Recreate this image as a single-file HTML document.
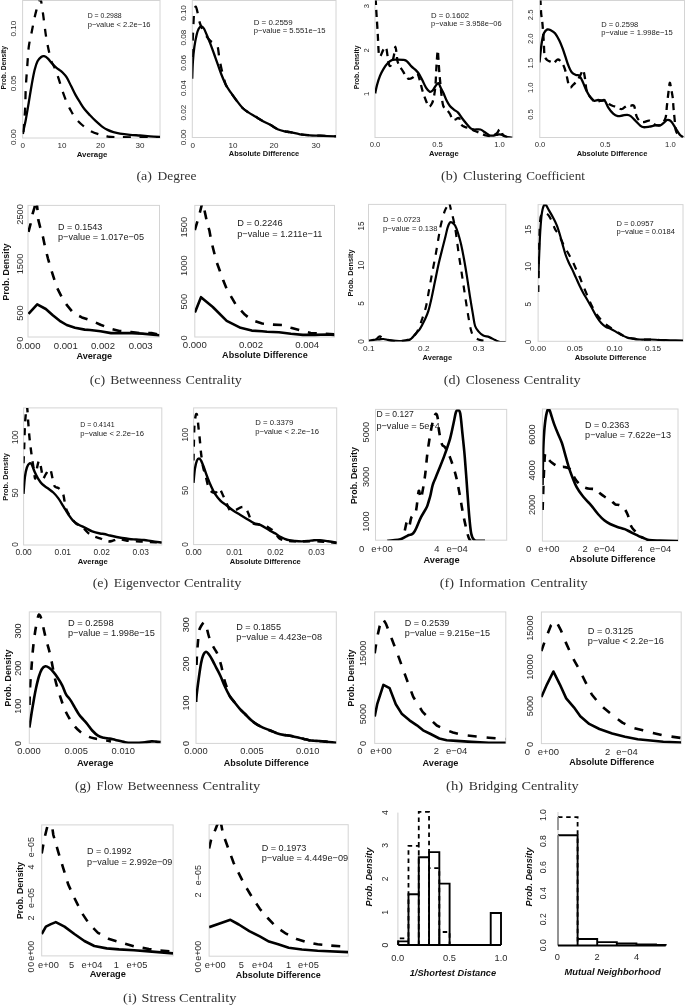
<!DOCTYPE html>
<html><head><meta charset="utf-8"><style>
html,body{margin:0;padding:0;background:#fff;}
body{width:685px;height:1008px;overflow:hidden;font-family:"Liberation Sans", sans-serif;}
svg{display:block;filter:grayscale(1) blur(0.4px);}
</style></head><body>
<svg width="685" height="1008" viewBox="0 0 685 1008">
<rect width="685" height="1008" fill="#fff"/>
<rect x="22.60" y="0.50" width="137.40" height="137.50" fill="none" stroke="#d4d4d4" stroke-width="1"/>
<text transform="translate(13.10,137.20) scale(1.000,1) rotate(-90)" x="-7.87" y="2.91" font-family='"Liberation Sans", sans-serif' font-size="8.09" font-weight="normal" font-style="normal" fill="#2a2a2a" textLength="15.74" lengthAdjust="spacingAndGlyphs">0.00</text>
<text transform="translate(13.10,83.30) scale(1.000,1) rotate(-90)" x="-7.87" y="2.91" font-family='"Liberation Sans", sans-serif' font-size="8.09" font-weight="normal" font-style="normal" fill="#2a2a2a" textLength="15.74" lengthAdjust="spacingAndGlyphs">0.05</text>
<text transform="translate(13.10,28.60) scale(1.000,1) rotate(-90)" x="-7.87" y="2.91" font-family='"Liberation Sans", sans-serif' font-size="8.09" font-weight="normal" font-style="normal" fill="#2a2a2a" textLength="15.74" lengthAdjust="spacingAndGlyphs">0.10</text>
<text x="20.55" y="147.91" font-family='"Liberation Sans", sans-serif' font-size="8.09" font-weight="normal" font-style="normal" fill="#2a2a2a" textLength="4.50" lengthAdjust="spacingAndGlyphs">0</text>
<text x="57.50" y="147.91" font-family='"Liberation Sans", sans-serif' font-size="8.09" font-weight="normal" font-style="normal" fill="#2a2a2a" textLength="8.99" lengthAdjust="spacingAndGlyphs">10</text>
<text x="96.00" y="147.91" font-family='"Liberation Sans", sans-serif' font-size="8.09" font-weight="normal" font-style="normal" fill="#2a2a2a" textLength="8.99" lengthAdjust="spacingAndGlyphs">20</text>
<text x="135.50" y="147.91" font-family='"Liberation Sans", sans-serif' font-size="8.09" font-weight="normal" font-style="normal" fill="#2a2a2a" textLength="8.99" lengthAdjust="spacingAndGlyphs">30</text>
<text x="76.65" y="156.83" font-family='"Liberation Sans", sans-serif' font-size="7.85" font-weight="bold" font-style="normal" fill="#111" textLength="30.70" lengthAdjust="spacingAndGlyphs">Average</text>
<text transform="translate(3.90,67.70) scale(1.000,1) rotate(-90)" x="-21.75" y="2.43" font-family='"Liberation Sans", sans-serif' font-size="6.75" font-weight="bold" font-style="normal" fill="#111" textLength="43.50" lengthAdjust="spacingAndGlyphs">Prob. Density</text>
<text x="87.70" y="18.48" font-family='"Liberation Sans", sans-serif' font-size="6.89" font-weight="normal" font-style="normal" fill="#222" textLength="33.90" lengthAdjust="spacingAndGlyphs">D = 0.2988</text>
<text x="87.70" y="26.72" font-family='"Liberation Sans", sans-serif' font-size="7.57" font-weight="normal" font-style="normal" fill="#222" textLength="62.90" lengthAdjust="spacingAndGlyphs">p−value &lt; 2.2e−16</text>
<clipPath id="c1"><rect x="22.60" y="0.50" width="137.40" height="137.50"/></clipPath>
<path d="M23.40,132.00 C23.43,131.42 23.32,132.25 23.60,128.50 C23.88,124.75 24.73,116.32 25.10,109.50 C25.47,102.68 25.43,94.90 25.80,87.60 C26.17,80.30 26.80,72.52 27.30,65.70 C27.80,58.88 28.07,52.32 28.80,46.70 C29.53,41.08 30.73,36.87 31.70,32.00 C32.67,27.13 33.75,21.37 34.60,17.50 C35.45,13.63 36.07,11.47 36.80,8.80 C37.53,6.13 38.38,3.13 39.00,1.50 C39.62,-0.13 40.02,-1.72 40.50,-1.00 C40.98,-0.28 41.30,1.98 41.90,5.80 C42.50,9.62 43.37,16.53 44.10,21.90 C44.83,27.27 45.45,32.88 46.30,38.00 C47.15,43.12 48.35,48.72 49.20,52.60 C50.05,56.48 50.43,58.63 51.40,61.30 C52.37,63.97 53.78,65.68 55.00,68.60 C56.22,71.52 57.48,75.15 58.70,78.80 C59.92,82.45 60.97,86.60 62.30,90.50 C63.63,94.40 65.23,98.78 66.70,102.20 C68.17,105.62 69.63,108.33 71.10,111.00 C72.57,113.67 73.55,115.78 75.50,118.20 C77.45,120.62 80.38,123.42 82.80,125.50 C85.22,127.58 87.33,129.23 90.00,130.70 C92.67,132.17 95.87,133.33 98.80,134.30 C101.73,135.27 104.07,136.02 107.60,136.50 C111.13,136.98 111.27,137.03 120.00,137.20 C128.73,137.37 153.33,137.45 160.00,137.50" fill="none" stroke="#000" stroke-width="2.3" stroke-linejoin="round" stroke-dasharray="8 8.5" clip-path="url(#c1)"/>
<clipPath id="c2"><rect x="22.60" y="0.50" width="137.40" height="137.50"/></clipPath>
<path d="M22.90,134.00 C23.08,133.00 23.52,130.38 24.00,128.00 C24.48,125.62 25.00,124.00 25.80,119.70 C26.60,115.40 27.82,108.03 28.80,102.20 C29.78,96.37 30.73,90.07 31.70,84.70 C32.67,79.33 33.63,73.90 34.60,70.00 C35.57,66.10 36.40,63.47 37.50,61.30 C38.60,59.13 40.10,57.85 41.20,57.00 C42.30,56.15 43.02,55.97 44.10,56.20 C45.18,56.43 46.37,57.18 47.70,58.40 C49.03,59.62 50.63,61.92 52.10,63.50 C53.57,65.08 55.18,66.77 56.50,67.90 C57.82,69.03 59.03,69.57 60.00,70.30 C60.97,71.03 61.18,71.12 62.30,72.30 C63.42,73.48 65.23,75.10 66.70,77.40 C68.17,79.70 69.63,83.18 71.10,86.10 C72.57,89.02 74.03,92.22 75.50,94.90 C76.97,97.58 78.45,99.88 79.90,102.20 C81.35,104.52 82.52,106.62 84.20,108.80 C85.88,110.98 88.05,113.23 90.00,115.30 C91.95,117.37 93.93,119.37 95.90,121.20 C97.87,123.03 99.85,124.85 101.80,126.30 C103.75,127.75 105.67,128.93 107.60,129.90 C109.53,130.87 111.33,131.48 113.40,132.10 C115.47,132.72 117.23,133.15 120.00,133.60 C122.77,134.05 126.67,134.48 130.00,134.80 C133.33,135.12 136.67,135.25 140.00,135.50 C143.33,135.75 146.67,136.05 150.00,136.30 C153.33,136.55 158.33,136.88 160.00,137.00" fill="none" stroke="#000" stroke-width="2.3" stroke-linejoin="round" clip-path="url(#c2)"/>
<rect x="192.30" y="0.50" width="143.70" height="137.00" fill="none" stroke="#d4d4d4" stroke-width="1"/>
<text transform="translate(183.00,137.30) scale(1.000,1) rotate(-90)" x="-7.87" y="2.91" font-family='"Liberation Sans", sans-serif' font-size="8.09" font-weight="normal" font-style="normal" fill="#2a2a2a" textLength="15.74" lengthAdjust="spacingAndGlyphs">0.00</text>
<text transform="translate(183.00,112.70) scale(1.000,1) rotate(-90)" x="-7.87" y="2.91" font-family='"Liberation Sans", sans-serif' font-size="8.09" font-weight="normal" font-style="normal" fill="#2a2a2a" textLength="15.74" lengthAdjust="spacingAndGlyphs">0.02</text>
<text transform="translate(183.00,88.20) scale(1.000,1) rotate(-90)" x="-7.87" y="2.91" font-family='"Liberation Sans", sans-serif' font-size="8.09" font-weight="normal" font-style="normal" fill="#2a2a2a" textLength="15.74" lengthAdjust="spacingAndGlyphs">0.04</text>
<text transform="translate(183.00,62.90) scale(1.000,1) rotate(-90)" x="-7.87" y="2.91" font-family='"Liberation Sans", sans-serif' font-size="8.09" font-weight="normal" font-style="normal" fill="#2a2a2a" textLength="15.74" lengthAdjust="spacingAndGlyphs">0.06</text>
<text transform="translate(183.00,37.60) scale(1.000,1) rotate(-90)" x="-7.87" y="2.91" font-family='"Liberation Sans", sans-serif' font-size="8.09" font-weight="normal" font-style="normal" fill="#2a2a2a" textLength="15.74" lengthAdjust="spacingAndGlyphs">0.08</text>
<text transform="translate(183.00,13.00) scale(1.000,1) rotate(-90)" x="-7.87" y="2.91" font-family='"Liberation Sans", sans-serif' font-size="8.09" font-weight="normal" font-style="normal" fill="#2a2a2a" textLength="15.74" lengthAdjust="spacingAndGlyphs">0.10</text>
<text x="190.55" y="147.91" font-family='"Liberation Sans", sans-serif' font-size="8.09" font-weight="normal" font-style="normal" fill="#2a2a2a" textLength="4.50" lengthAdjust="spacingAndGlyphs">0</text>
<text x="228.50" y="147.91" font-family='"Liberation Sans", sans-serif' font-size="8.09" font-weight="normal" font-style="normal" fill="#2a2a2a" textLength="8.99" lengthAdjust="spacingAndGlyphs">10</text>
<text x="269.50" y="147.91" font-family='"Liberation Sans", sans-serif' font-size="8.09" font-weight="normal" font-style="normal" fill="#2a2a2a" textLength="8.99" lengthAdjust="spacingAndGlyphs">20</text>
<text x="311.50" y="147.91" font-family='"Liberation Sans", sans-serif' font-size="8.09" font-weight="normal" font-style="normal" fill="#2a2a2a" textLength="8.99" lengthAdjust="spacingAndGlyphs">30</text>
<text x="228.75" y="156.19" font-family='"Liberation Sans", sans-serif' font-size="7.46" font-weight="bold" font-style="normal" fill="#111" textLength="70.50" lengthAdjust="spacingAndGlyphs">Absolute Difference</text>
<text x="253.70" y="24.85" font-family='"Liberation Sans", sans-serif' font-size="7.91" font-weight="normal" font-style="normal" fill="#222" textLength="38.90" lengthAdjust="spacingAndGlyphs">D = 0.2559</text>
<text x="253.70" y="32.75" font-family='"Liberation Sans", sans-serif' font-size="7.63" font-weight="normal" font-style="normal" fill="#222" textLength="71.90" lengthAdjust="spacingAndGlyphs">p−value = 5.551e−15</text>
<clipPath id="c3"><rect x="192.30" y="0.50" width="143.70" height="137.00"/></clipPath>
<path d="M192.20,57.00 C192.27,54.80 192.43,48.43 192.60,43.80 C192.77,39.17 192.95,34.32 193.20,29.20 C193.45,24.08 193.67,16.87 194.10,13.10 C194.53,9.33 195.15,6.35 195.80,6.60 C196.45,6.85 197.38,12.05 198.00,14.60 C198.62,17.15 198.88,19.72 199.50,21.90 C200.12,24.08 200.85,25.75 201.70,27.70 C202.55,29.65 203.15,31.40 204.60,33.60 C206.05,35.80 208.58,39.20 210.40,40.90 C212.22,42.60 214.28,42.83 215.50,43.80 C216.72,44.77 217.08,44.52 217.70,46.70 C218.32,48.88 218.58,53.25 219.20,56.90 C219.82,60.55 220.67,65.32 221.40,68.60 C222.13,71.88 222.87,73.92 223.60,76.60 C224.33,79.28 224.58,82.02 225.80,84.70 C227.02,87.38 229.08,90.03 230.90,92.70 C232.72,95.37 234.75,98.15 236.70,100.70 C238.65,103.25 240.65,106.05 242.60,108.00 C244.55,109.95 246.22,110.93 248.40,112.40 C250.58,113.87 253.27,115.33 255.70,116.80 C258.13,118.27 260.57,119.87 263.00,121.20 C265.43,122.53 267.87,123.47 270.30,124.80 C272.73,126.13 275.17,128.10 277.60,129.20 C280.03,130.30 282.83,130.92 284.90,131.40 C286.97,131.88 287.48,131.62 290.00,132.10 C292.52,132.58 296.67,133.77 300.00,134.30 C303.33,134.83 306.67,135.07 310.00,135.30 C313.33,135.53 315.67,135.50 320.00,135.70 C324.33,135.90 333.33,136.37 336.00,136.50" fill="none" stroke="#000" stroke-width="2.3" stroke-linejoin="round" stroke-dasharray="8 8.5" clip-path="url(#c3)"/>
<clipPath id="c4"><rect x="192.30" y="0.50" width="143.70" height="137.00"/></clipPath>
<path d="M192.20,78.80 C192.32,75.88 192.53,66.65 192.90,61.30 C193.27,55.95 193.78,51.08 194.40,46.70 C195.02,42.32 195.87,38.03 196.60,35.00 C197.33,31.97 198.00,29.95 198.80,28.50 C199.60,27.05 200.55,26.30 201.40,26.30 C202.25,26.30 203.00,27.05 203.90,28.50 C204.80,29.95 205.72,32.45 206.80,35.00 C207.88,37.55 209.18,40.63 210.40,43.80 C211.62,46.97 212.88,50.60 214.10,54.00 C215.32,57.40 216.48,60.78 217.70,64.20 C218.92,67.62 220.05,71.08 221.40,74.50 C222.75,77.92 224.22,81.67 225.80,84.70 C227.38,87.73 229.08,90.03 230.90,92.70 C232.72,95.37 234.75,98.15 236.70,100.70 C238.65,103.25 240.65,106.05 242.60,108.00 C244.55,109.95 246.22,110.93 248.40,112.40 C250.58,113.87 253.27,115.33 255.70,116.80 C258.13,118.27 260.57,119.87 263.00,121.20 C265.43,122.53 267.87,123.47 270.30,124.80 C272.73,126.13 275.17,128.10 277.60,129.20 C280.03,130.30 282.83,130.92 284.90,131.40 C286.97,131.88 287.48,131.62 290.00,132.10 C292.52,132.58 296.67,133.77 300.00,134.30 C303.33,134.83 306.67,135.07 310.00,135.30 C313.33,135.53 315.67,135.50 320.00,135.70 C324.33,135.90 333.33,136.37 336.00,136.50" fill="none" stroke="#000" stroke-width="2.3" stroke-linejoin="round" clip-path="url(#c4)"/>
<rect x="375.00" y="0.50" width="137.70" height="137.00" fill="none" stroke="#d4d4d4" stroke-width="1"/>
<text transform="translate(365.80,93.80) scale(1.000,1) rotate(-90)" x="-2.13" y="2.76" font-family='"Liberation Sans", sans-serif' font-size="7.67" font-weight="normal" font-style="normal" fill="#2a2a2a" textLength="4.26" lengthAdjust="spacingAndGlyphs">1</text>
<text transform="translate(365.80,50.30) scale(1.000,1) rotate(-90)" x="-2.13" y="2.76" font-family='"Liberation Sans", sans-serif' font-size="7.67" font-weight="normal" font-style="normal" fill="#2a2a2a" textLength="4.26" lengthAdjust="spacingAndGlyphs">2</text>
<text transform="translate(365.80,6.00) scale(1.000,1) rotate(-90)" x="-2.13" y="2.76" font-family='"Liberation Sans", sans-serif' font-size="7.67" font-weight="normal" font-style="normal" fill="#2a2a2a" textLength="4.26" lengthAdjust="spacingAndGlyphs">3</text>
<text x="369.67" y="147.06" font-family='"Liberation Sans", sans-serif' font-size="7.67" font-weight="normal" font-style="normal" fill="#2a2a2a" textLength="10.66" lengthAdjust="spacingAndGlyphs">0.0</text>
<text x="432.17" y="147.06" font-family='"Liberation Sans", sans-serif' font-size="7.67" font-weight="normal" font-style="normal" fill="#2a2a2a" textLength="10.66" lengthAdjust="spacingAndGlyphs">0.5</text>
<text x="494.17" y="147.06" font-family='"Liberation Sans", sans-serif' font-size="7.67" font-weight="normal" font-style="normal" fill="#2a2a2a" textLength="10.66" lengthAdjust="spacingAndGlyphs">1.0</text>
<text x="428.95" y="155.93" font-family='"Liberation Sans", sans-serif' font-size="7.60" font-weight="bold" font-style="normal" fill="#111" textLength="29.70" lengthAdjust="spacingAndGlyphs">Average</text>
<text transform="translate(356.60,67.40) scale(1.000,1) rotate(-90)" x="-21.95" y="2.45" font-family='"Liberation Sans", sans-serif' font-size="6.81" font-weight="bold" font-style="normal" fill="#111" textLength="43.90" lengthAdjust="spacingAndGlyphs">Prob. Density</text>
<text x="431.00" y="17.79" font-family='"Liberation Sans", sans-serif' font-size="7.74" font-weight="normal" font-style="normal" fill="#222" textLength="38.10" lengthAdjust="spacingAndGlyphs">D = 0.1602</text>
<text x="431.00" y="26.20" font-family='"Liberation Sans", sans-serif' font-size="7.49" font-weight="normal" font-style="normal" fill="#222" textLength="70.60" lengthAdjust="spacingAndGlyphs">p−value = 3.958e−06</text>
<clipPath id="c5"><rect x="375.00" y="0.50" width="137.70" height="137.00"/></clipPath>
<path d="M375.60,-2.00 C375.68,-0.45 375.92,4.05 376.10,7.30 C376.28,10.55 376.53,14.82 376.70,17.50 C376.87,20.18 376.92,20.48 377.10,23.40 C377.28,26.32 377.55,30.40 377.80,35.00 C378.05,39.60 378.35,47.47 378.60,51.00 C378.85,54.53 378.93,55.45 379.30,56.20 C379.67,56.95 380.18,56.47 380.80,55.50 C381.42,54.53 382.28,51.75 383.00,50.40 C383.72,49.05 384.50,47.53 385.10,47.40 C385.70,47.27 386.10,47.52 386.60,49.60 C387.10,51.68 387.62,57.22 388.10,59.90 C388.58,62.58 388.90,65.02 389.50,65.70 C390.10,66.38 390.97,65.70 391.70,64.00 C392.43,62.30 393.28,58.38 393.90,55.50 C394.52,52.62 394.92,46.70 395.40,46.70 C395.88,46.70 396.45,53.07 396.80,55.50 C397.15,57.93 397.05,59.55 397.50,61.30 C397.95,63.05 398.63,64.42 399.50,66.00 C400.37,67.58 401.70,69.22 402.70,70.80 C403.70,72.38 404.53,74.17 405.50,75.50 C406.47,76.83 407.27,78.48 408.50,78.80 C409.73,79.12 411.43,78.25 412.90,77.40 C414.37,76.55 416.08,72.97 417.30,73.70 C418.52,74.43 419.35,79.00 420.20,81.80 C421.05,84.60 421.43,87.35 422.40,90.50 C423.37,93.65 424.92,98.02 426.00,100.70 C427.08,103.38 427.92,106.12 428.90,106.60 C429.88,107.08 431.05,105.30 431.90,103.60 C432.75,101.90 433.40,99.55 434.00,96.40 C434.60,93.25 435.08,89.82 435.50,84.70 C435.92,79.58 436.13,71.42 436.50,65.70 C436.87,59.98 437.38,51.62 437.70,50.40 C438.02,49.18 438.12,54.63 438.40,58.40 C438.68,62.17 439.03,68.38 439.40,73.00 C439.77,77.62 440.25,82.43 440.60,86.10 C440.95,89.77 441.05,91.68 441.50,95.00 C441.95,98.32 442.38,103.50 443.30,106.00 C444.22,108.50 445.88,108.67 447.00,110.00 C448.12,111.33 449.07,112.38 450.00,114.00 C450.93,115.62 451.68,118.78 452.60,119.70 C453.52,120.62 454.43,119.78 455.50,119.50 C456.57,119.22 458.02,117.15 459.00,118.00 C459.98,118.85 460.40,123.10 461.40,124.60 C462.40,126.10 463.57,126.35 465.00,127.00 C466.43,127.65 468.33,127.83 470.00,128.50 C471.67,129.17 473.33,130.25 475.00,131.00 C476.67,131.75 478.17,132.25 480.00,133.00 C481.83,133.75 484.00,135.00 486.00,135.50 C488.00,136.00 490.17,136.42 492.00,136.00 C493.83,135.58 495.75,134.08 497.00,133.00 C498.25,131.92 498.75,129.75 499.50,129.50 C500.25,129.25 500.92,130.58 501.50,131.50 C502.08,132.42 502.08,134.08 503.00,135.00 C503.92,135.92 505.50,136.58 507.00,137.00 C508.50,137.42 511.17,137.42 512.00,137.50" fill="none" stroke="#000" stroke-width="2.3" stroke-linejoin="round" stroke-dasharray="7 5" clip-path="url(#c5)"/>
<clipPath id="c6"><rect x="375.00" y="0.50" width="137.70" height="137.00"/></clipPath>
<path d="M375.20,93.40 C375.52,91.95 376.30,87.62 377.10,84.70 C377.90,81.78 378.90,78.58 380.00,75.90 C381.10,73.22 382.35,70.78 383.70,68.60 C385.05,66.42 386.65,64.25 388.10,62.80 C389.55,61.35 390.83,60.43 392.40,59.90 C393.97,59.37 395.67,59.60 397.50,59.60 C399.33,59.60 401.82,59.62 403.40,59.90 C404.98,60.18 405.67,60.22 407.00,61.30 C408.33,62.38 409.93,64.93 411.40,66.40 C412.87,67.87 414.47,68.75 415.80,70.10 C417.13,71.45 418.30,72.80 419.40,74.50 C420.50,76.20 421.30,78.12 422.40,80.30 C423.50,82.48 424.78,85.70 426.00,87.60 C427.22,89.50 428.60,91.22 429.70,91.70 C430.80,92.18 431.63,91.43 432.60,90.50 C433.57,89.57 434.53,87.32 435.50,86.10 C436.47,84.88 437.55,82.95 438.40,83.20 C439.25,83.45 439.78,86.00 440.60,87.60 C441.42,89.20 442.30,90.65 443.30,92.80 C444.30,94.95 445.50,98.30 446.60,100.50 C447.70,102.70 448.63,104.45 449.90,106.00 C451.17,107.55 452.83,108.70 454.20,109.80 C455.57,110.90 456.82,111.23 458.10,112.60 C459.38,113.97 460.53,116.18 461.90,118.00 C463.27,119.82 464.83,121.77 466.30,123.50 C467.77,125.23 469.43,127.40 470.70,128.40 C471.97,129.40 472.27,129.32 473.90,129.50 C475.53,129.68 478.67,129.03 480.50,129.50 C482.33,129.97 483.43,131.33 484.90,132.30 C486.37,133.27 487.83,134.77 489.30,135.30 C490.77,135.83 492.25,135.63 493.70,135.50 C495.15,135.37 496.73,134.63 498.00,134.50 C499.27,134.37 500.02,134.35 501.30,134.70 C502.58,135.05 504.23,136.13 505.70,136.60 C507.17,137.07 509.00,137.35 510.10,137.50 C511.20,137.65 511.93,137.50 512.30,137.50" fill="none" stroke="#000" stroke-width="2.3" stroke-linejoin="round" clip-path="url(#c6)"/>
<rect x="539.80" y="0.50" width="144.70" height="137.00" fill="none" stroke="#d4d4d4" stroke-width="1"/>
<text transform="translate(530.20,114.50) scale(1.000,1) rotate(-90)" x="-5.33" y="2.76" font-family='"Liberation Sans", sans-serif' font-size="7.67" font-weight="normal" font-style="normal" fill="#2a2a2a" textLength="10.66" lengthAdjust="spacingAndGlyphs">0.5</text>
<text transform="translate(530.20,87.70) scale(1.000,1) rotate(-90)" x="-5.33" y="2.76" font-family='"Liberation Sans", sans-serif' font-size="7.67" font-weight="normal" font-style="normal" fill="#2a2a2a" textLength="10.66" lengthAdjust="spacingAndGlyphs">1.0</text>
<text transform="translate(530.20,63.20) scale(1.000,1) rotate(-90)" x="-5.33" y="2.76" font-family='"Liberation Sans", sans-serif' font-size="7.67" font-weight="normal" font-style="normal" fill="#2a2a2a" textLength="10.66" lengthAdjust="spacingAndGlyphs">1.5</text>
<text transform="translate(530.20,38.70) scale(1.000,1) rotate(-90)" x="-5.33" y="2.76" font-family='"Liberation Sans", sans-serif' font-size="7.67" font-weight="normal" font-style="normal" fill="#2a2a2a" textLength="10.66" lengthAdjust="spacingAndGlyphs">2.0</text>
<text transform="translate(530.20,14.90) scale(1.000,1) rotate(-90)" x="-5.33" y="2.76" font-family='"Liberation Sans", sans-serif' font-size="7.67" font-weight="normal" font-style="normal" fill="#2a2a2a" textLength="10.66" lengthAdjust="spacingAndGlyphs">2.5</text>
<text x="534.67" y="147.06" font-family='"Liberation Sans", sans-serif' font-size="7.67" font-weight="normal" font-style="normal" fill="#2a2a2a" textLength="10.66" lengthAdjust="spacingAndGlyphs">0.0</text>
<text x="599.97" y="147.06" font-family='"Liberation Sans", sans-serif' font-size="7.67" font-weight="normal" font-style="normal" fill="#2a2a2a" textLength="10.66" lengthAdjust="spacingAndGlyphs">0.5</text>
<text x="665.07" y="147.06" font-family='"Liberation Sans", sans-serif' font-size="7.67" font-weight="normal" font-style="normal" fill="#2a2a2a" textLength="10.66" lengthAdjust="spacingAndGlyphs">1.0</text>
<text x="576.65" y="155.99" font-family='"Liberation Sans", sans-serif' font-size="7.48" font-weight="bold" font-style="normal" fill="#111" textLength="70.70" lengthAdjust="spacingAndGlyphs">Absolute Difference</text>
<text x="601.20" y="27.01" font-family='"Liberation Sans", sans-serif' font-size="7.54" font-weight="normal" font-style="normal" fill="#222" textLength="37.10" lengthAdjust="spacingAndGlyphs">D = 0.2598</text>
<text x="601.20" y="35.43" font-family='"Liberation Sans", sans-serif' font-size="7.60" font-weight="normal" font-style="normal" fill="#222" textLength="71.60" lengthAdjust="spacingAndGlyphs">p−value = 1.998e−15</text>
<clipPath id="c7"><rect x="539.80" y="0.50" width="144.70" height="137.00"/></clipPath>
<path d="M540.50,-2.00 C540.50,-1.43 540.38,-1.25 540.50,1.40 C540.62,4.05 540.90,10.43 541.20,13.90 C541.50,17.37 541.95,18.73 542.30,22.20 C542.65,25.67 543.03,31.00 543.30,34.70 C543.57,38.40 543.68,40.92 543.90,44.40 C544.12,47.88 544.08,53.00 544.60,55.60 C545.12,58.20 545.95,58.97 547.00,60.00 C548.05,61.03 549.78,61.27 550.90,61.80 C552.02,62.33 552.67,63.55 553.70,63.20 C554.73,62.85 556.05,60.15 557.10,59.70 C558.15,59.25 558.95,59.57 560.00,60.50 C561.05,61.43 562.37,63.12 563.40,65.30 C564.43,67.48 565.38,70.60 566.20,73.60 C567.02,76.60 567.62,80.98 568.30,83.30 C568.98,85.62 569.52,87.22 570.30,87.50 C571.08,87.78 571.83,86.15 573.00,85.00 C574.17,83.85 576.13,82.15 577.30,80.60 C578.47,79.05 579.13,77.30 580.00,75.70 C580.87,74.10 581.92,71.82 582.50,71.00 C583.08,70.18 583.10,69.67 583.50,70.80 C583.90,71.93 584.43,74.78 584.90,77.80 C585.37,80.82 585.72,86.13 586.30,88.90 C586.88,91.67 587.45,92.72 588.40,94.40 C589.35,96.08 590.85,97.73 592.00,99.00 C593.15,100.27 593.97,101.67 595.30,102.00 C596.63,102.33 598.55,101.33 600.00,101.00 C601.45,100.67 603.00,100.00 604.00,100.00 C605.00,100.00 605.17,100.33 606.00,101.00 C606.83,101.67 607.83,103.17 609.00,104.00 C610.17,104.83 611.82,105.55 613.00,106.00 C614.18,106.45 615.10,106.28 616.10,106.70 C617.10,107.12 618.03,108.12 619.00,108.50 C619.97,108.88 620.90,109.25 621.90,109.00 C622.90,108.75 623.92,107.67 625.00,107.00 C626.08,106.33 627.40,105.25 628.40,105.00 C629.40,104.75 630.03,105.32 631.00,105.50 C631.97,105.68 633.28,104.33 634.20,106.10 C635.12,107.87 635.53,113.57 636.50,116.10 C637.47,118.63 638.75,120.32 640.00,121.30 C641.25,122.28 642.43,122.10 644.00,122.00 C645.57,121.90 647.73,120.33 649.40,120.70 C651.07,121.07 652.57,123.42 654.00,124.20 C655.43,124.98 656.67,125.43 658.00,125.40 C659.33,125.37 660.72,125.37 662.00,124.00 C663.28,122.63 664.88,120.20 665.70,117.20 C666.52,114.20 666.42,110.37 666.90,106.00 C667.38,101.63 668.12,94.87 668.60,91.00 C669.08,87.13 669.40,83.30 669.80,82.80 C670.20,82.30 670.52,85.57 671.00,88.00 C671.48,90.43 672.28,94.07 672.70,97.40 C673.12,100.73 673.20,104.57 673.50,108.00 C673.80,111.43 674.13,114.33 674.50,118.00 C674.87,121.67 675.12,127.33 675.70,130.00 C676.28,132.67 676.78,132.75 678.00,134.00 C679.22,135.25 682.17,136.92 683.00,137.50" fill="none" stroke="#000" stroke-width="2.3" stroke-linejoin="round" stroke-dasharray="7 5" clip-path="url(#c7)"/>
<clipPath id="c8"><rect x="539.80" y="0.50" width="144.70" height="137.00"/></clipPath>
<path d="M539.50,62.50 C539.67,60.88 540.10,56.27 540.50,52.80 C540.90,49.33 541.33,44.95 541.90,41.70 C542.47,38.45 542.98,35.35 543.90,33.30 C544.82,31.25 546.23,29.90 547.40,29.40 C548.57,28.90 549.63,29.65 550.90,30.30 C552.17,30.95 553.62,31.63 555.00,33.30 C556.38,34.97 557.92,37.75 559.20,40.30 C560.48,42.85 561.65,45.83 562.70,48.60 C563.75,51.37 564.57,54.12 565.50,56.90 C566.43,59.68 567.27,62.75 568.30,65.30 C569.33,67.85 570.43,70.58 571.70,72.20 C572.97,73.82 574.62,74.42 575.90,75.00 C577.18,75.58 578.25,74.55 579.40,75.70 C580.55,76.85 581.65,79.47 582.80,81.90 C583.95,84.33 585.13,87.87 586.30,90.30 C587.47,92.73 588.52,94.77 589.80,96.50 C591.08,98.23 592.62,100.12 594.00,100.70 C595.38,101.28 596.72,100.00 598.10,100.00 C599.48,100.00 601.15,100.55 602.30,100.70 C603.45,100.85 603.97,99.70 605.00,100.90 C606.03,102.10 607.13,105.77 608.50,107.90 C609.87,110.03 611.65,112.33 613.20,113.70 C614.75,115.07 616.25,115.80 617.80,116.10 C619.35,116.40 620.93,115.70 622.50,115.50 C624.07,115.30 625.83,114.80 627.20,114.90 C628.57,115.00 629.33,115.13 630.70,116.10 C632.07,117.07 633.85,119.15 635.40,120.70 C636.95,122.25 638.65,124.32 640.00,125.40 C641.35,126.48 641.93,127.00 643.50,127.20 C645.07,127.40 647.45,126.90 649.40,126.60 C651.35,126.30 653.45,125.60 655.20,125.40 C656.95,125.20 658.53,125.78 659.90,125.40 C661.27,125.02 662.23,123.98 663.40,123.10 C664.57,122.22 665.93,120.60 666.90,120.10 C667.87,119.60 668.42,119.80 669.20,120.10 C669.98,120.40 670.82,121.02 671.60,121.90 C672.38,122.78 672.93,123.85 673.90,125.40 C674.87,126.95 676.33,129.55 677.40,131.20 C678.47,132.85 679.37,134.32 680.30,135.30 C681.23,136.28 682.55,136.80 683.00,137.10" fill="none" stroke="#000" stroke-width="2.3" stroke-linejoin="round" clip-path="url(#c8)"/>
<rect x="28.00" y="205.40" width="131.50" height="131.60" fill="none" stroke="#d4d4d4" stroke-width="1"/>
<text transform="translate(19.30,339.20) scale(1.030,1) rotate(-90)" x="-2.58" y="3.34" font-family='"Liberation Sans", sans-serif' font-size="9.28" font-weight="normal" font-style="normal" fill="#2a2a2a" textLength="5.16" lengthAdjust="spacingAndGlyphs">0</text>
<text transform="translate(19.30,313.00) scale(1.030,1) rotate(-90)" x="-7.74" y="3.34" font-family='"Liberation Sans", sans-serif' font-size="9.28" font-weight="normal" font-style="normal" fill="#2a2a2a" textLength="15.48" lengthAdjust="spacingAndGlyphs">500</text>
<text transform="translate(19.30,264.00) scale(1.030,1) rotate(-90)" x="-10.32" y="3.34" font-family='"Liberation Sans", sans-serif' font-size="9.28" font-weight="normal" font-style="normal" fill="#2a2a2a" textLength="20.64" lengthAdjust="spacingAndGlyphs">1500</text>
<text transform="translate(19.30,214.40) scale(1.030,1) rotate(-90)" x="-10.32" y="3.34" font-family='"Liberation Sans", sans-serif' font-size="9.28" font-weight="normal" font-style="normal" fill="#2a2a2a" textLength="20.64" lengthAdjust="spacingAndGlyphs">2500</text>
<text x="16.54" y="348.54" font-family='"Liberation Sans", sans-serif' font-size="9.28" font-weight="normal" font-style="normal" fill="#2a2a2a" textLength="23.91" lengthAdjust="spacingAndGlyphs">0.000</text>
<text x="53.84" y="348.54" font-family='"Liberation Sans", sans-serif' font-size="9.28" font-weight="normal" font-style="normal" fill="#2a2a2a" textLength="23.91" lengthAdjust="spacingAndGlyphs">0.001</text>
<text x="91.04" y="348.54" font-family='"Liberation Sans", sans-serif' font-size="9.28" font-weight="normal" font-style="normal" fill="#2a2a2a" textLength="23.91" lengthAdjust="spacingAndGlyphs">0.002</text>
<text x="128.74" y="348.54" font-family='"Liberation Sans", sans-serif' font-size="9.28" font-weight="normal" font-style="normal" fill="#2a2a2a" textLength="23.91" lengthAdjust="spacingAndGlyphs">0.003</text>
<text x="76.50" y="358.58" font-family='"Liberation Sans", sans-serif' font-size="8.84" font-weight="bold" font-style="normal" fill="#111" textLength="35.60" lengthAdjust="spacingAndGlyphs">Average</text>
<text transform="translate(6.00,272.00) scale(1.030,1) rotate(-90)" x="-28.50" y="3.18" font-family='"Liberation Sans", sans-serif' font-size="8.84" font-weight="bold" font-style="normal" fill="#111" textLength="57.00" lengthAdjust="spacingAndGlyphs">Prob. Density</text>
<text x="58.00" y="229.94" font-family='"Liberation Sans", sans-serif' font-size="9.00" font-weight="normal" font-style="normal" fill="#222" textLength="44.30" lengthAdjust="spacingAndGlyphs">D = 0.1543</text>
<text x="58.00" y="239.68" font-family='"Liberation Sans", sans-serif' font-size="9.12" font-weight="normal" font-style="normal" fill="#222" textLength="86.00" lengthAdjust="spacingAndGlyphs">p−value = 1.017e−05</text>
<clipPath id="c9"><rect x="28.00" y="205.40" width="131.50" height="131.60"/></clipPath>
<path d="M28.50,231.90 L30.60,223.60 L32.60,213.90 L34.70,206.90 L36.30,199.00 L37.50,210.00 L38.20,219.40 L40.30,227.80 L43.10,237.50 L45.10,247.20 L47.90,258.30 L50.70,268.10 L54.20,279.20 L56.90,287.50 L61.80,297.20 L66.70,304.90 L73.60,313.20 L81.90,317.40 L91.70,320.80 L100.50,324.70 L111.00,328.90 L119.40,331.00 L131.00,332.00 L139.40,333.10 L151.50,333.10 L159.40,334.70" fill="none" stroke="#000" stroke-width="2.6" stroke-linejoin="round" stroke-dasharray="9 9" clip-path="url(#c9)"/>
<clipPath id="c10"><rect x="28.00" y="205.40" width="131.50" height="131.60"/></clipPath>
<path d="M28.50,313.90 L37.20,304.40 L45.80,309.00 L52.80,315.30 L59.70,320.80 L66.70,325.00 L75.00,327.80 L84.70,329.60 L90.00,330.00 L100.50,331.20 L111.00,333.10 L121.50,333.10 L132.00,333.10 L142.60,333.60 L153.10,334.70 L159.40,335.20" fill="none" stroke="#000" stroke-width="2.6" stroke-linejoin="round" clip-path="url(#c10)"/>
<rect x="194.80" y="205.40" width="139.70" height="131.60" fill="none" stroke="#d4d4d4" stroke-width="1"/>
<text transform="translate(183.60,338.00) scale(1.030,1) rotate(-90)" x="-2.58" y="3.34" font-family='"Liberation Sans", sans-serif' font-size="9.28" font-weight="normal" font-style="normal" fill="#2a2a2a" textLength="5.16" lengthAdjust="spacingAndGlyphs">0</text>
<text transform="translate(183.60,301.70) scale(1.030,1) rotate(-90)" x="-7.74" y="3.34" font-family='"Liberation Sans", sans-serif' font-size="9.28" font-weight="normal" font-style="normal" fill="#2a2a2a" textLength="15.48" lengthAdjust="spacingAndGlyphs">500</text>
<text transform="translate(183.60,265.70) scale(1.030,1) rotate(-90)" x="-10.32" y="3.34" font-family='"Liberation Sans", sans-serif' font-size="9.28" font-weight="normal" font-style="normal" fill="#2a2a2a" textLength="20.64" lengthAdjust="spacingAndGlyphs">1000</text>
<text transform="translate(183.60,227.20) scale(1.030,1) rotate(-90)" x="-10.32" y="3.34" font-family='"Liberation Sans", sans-serif' font-size="9.28" font-weight="normal" font-style="normal" fill="#2a2a2a" textLength="20.64" lengthAdjust="spacingAndGlyphs">1500</text>
<text x="182.84" y="348.24" font-family='"Liberation Sans", sans-serif' font-size="9.28" font-weight="normal" font-style="normal" fill="#2a2a2a" textLength="23.91" lengthAdjust="spacingAndGlyphs">0.000</text>
<text x="239.04" y="348.24" font-family='"Liberation Sans", sans-serif' font-size="9.28" font-weight="normal" font-style="normal" fill="#2a2a2a" textLength="23.91" lengthAdjust="spacingAndGlyphs">0.002</text>
<text x="295.24" y="348.24" font-family='"Liberation Sans", sans-serif' font-size="9.28" font-weight="normal" font-style="normal" fill="#2a2a2a" textLength="23.91" lengthAdjust="spacingAndGlyphs">0.004</text>
<text x="222.10" y="358.07" font-family='"Liberation Sans", sans-serif' font-size="8.80" font-weight="bold" font-style="normal" fill="#111" textLength="85.60" lengthAdjust="spacingAndGlyphs">Absolute Difference</text>
<text x="237.20" y="225.62" font-family='"Liberation Sans", sans-serif' font-size="9.23" font-weight="normal" font-style="normal" fill="#222" textLength="45.40" lengthAdjust="spacingAndGlyphs">D = 0.2246</text>
<text x="237.20" y="236.71" font-family='"Liberation Sans", sans-serif' font-size="9.19" font-weight="normal" font-style="normal" fill="#222" textLength="85.30" lengthAdjust="spacingAndGlyphs">p−value = 1.211e−11</text>
<clipPath id="c11"><rect x="194.80" y="205.40" width="139.70" height="131.60"/></clipPath>
<path d="M194.80,230.00 L195.50,227.80 L197.60,220.80 L200.00,212.00 L202.00,204.00 L203.00,203.00 L204.50,210.40 L207.30,223.60 L209.40,230.60 L211.40,241.70 L213.50,250.00 L216.30,261.10 L219.80,270.80 L223.30,280.60 L226.70,288.90 L232.30,298.60 L236.40,305.60 L244.80,314.60 L251.70,320.10 L262.20,323.50 L271.20,324.50 L282.50,325.00 L290.90,327.70 L302.30,330.70 L310.70,333.10 L322.00,333.70 L334.00,334.30" fill="none" stroke="#000" stroke-width="2.6" stroke-linejoin="round" stroke-dasharray="9 9" clip-path="url(#c11)"/>
<clipPath id="c12"><rect x="194.80" y="205.40" width="139.70" height="131.60"/></clipPath>
<path d="M194.80,312.50 L195.50,311.10 L201.00,297.20 L212.80,307.00 L226.70,320.80 L240.60,327.80 L251.70,330.60 L262.00,331.30 L267.00,331.70 L279.00,332.20 L290.90,333.70 L302.90,334.90 L314.90,334.90 L326.90,334.50 L334.60,334.90" fill="none" stroke="#000" stroke-width="2.6" stroke-linejoin="round" clip-path="url(#c12)"/>
<rect x="368.50" y="204.40" width="137.30" height="137.00" fill="none" stroke="#d4d4d4" stroke-width="1"/>
<text transform="translate(361.00,341.40) scale(1.030,1) rotate(-90)" x="-2.24" y="2.90" font-family='"Liberation Sans", sans-serif' font-size="8.05" font-weight="normal" font-style="normal" fill="#2a2a2a" textLength="4.48" lengthAdjust="spacingAndGlyphs">0</text>
<text transform="translate(361.00,303.60) scale(1.030,1) rotate(-90)" x="-2.24" y="2.90" font-family='"Liberation Sans", sans-serif' font-size="8.05" font-weight="normal" font-style="normal" fill="#2a2a2a" textLength="4.48" lengthAdjust="spacingAndGlyphs">5</text>
<text transform="translate(361.00,265.20) scale(1.030,1) rotate(-90)" x="-4.48" y="2.90" font-family='"Liberation Sans", sans-serif' font-size="8.05" font-weight="normal" font-style="normal" fill="#2a2a2a" textLength="8.96" lengthAdjust="spacingAndGlyphs">10</text>
<text transform="translate(361.00,226.00) scale(1.030,1) rotate(-90)" x="-4.48" y="2.90" font-family='"Liberation Sans", sans-serif' font-size="8.05" font-weight="normal" font-style="normal" fill="#2a2a2a" textLength="8.96" lengthAdjust="spacingAndGlyphs">15</text>
<text x="363.03" y="351.20" font-family='"Liberation Sans", sans-serif' font-size="8.05" font-weight="normal" font-style="normal" fill="#2a2a2a" textLength="11.53" lengthAdjust="spacingAndGlyphs">0.1</text>
<text x="418.03" y="351.20" font-family='"Liberation Sans", sans-serif' font-size="8.05" font-weight="normal" font-style="normal" fill="#2a2a2a" textLength="11.53" lengthAdjust="spacingAndGlyphs">0.2</text>
<text x="472.73" y="351.20" font-family='"Liberation Sans", sans-serif' font-size="8.05" font-weight="normal" font-style="normal" fill="#2a2a2a" textLength="11.53" lengthAdjust="spacingAndGlyphs">0.3</text>
<text x="422.50" y="359.65" font-family='"Liberation Sans", sans-serif' font-size="7.35" font-weight="bold" font-style="normal" fill="#111" textLength="29.60" lengthAdjust="spacingAndGlyphs">Average</text>
<text transform="translate(350.00,273.00) scale(1.030,1) rotate(-90)" x="-23.50" y="2.62" font-family='"Liberation Sans", sans-serif' font-size="7.29" font-weight="bold" font-style="normal" fill="#111" textLength="47.00" lengthAdjust="spacingAndGlyphs">Prob. Density</text>
<text x="383.10" y="222.04" font-family='"Liberation Sans", sans-serif' font-size="7.62" font-weight="normal" font-style="normal" fill="#222" textLength="37.50" lengthAdjust="spacingAndGlyphs">D = 0.0723</text>
<text x="383.10" y="231.23" font-family='"Liberation Sans", sans-serif' font-size="7.57" font-weight="normal" font-style="normal" fill="#222" textLength="54.30" lengthAdjust="spacingAndGlyphs">p−value = 0.138</text>
<clipPath id="c13"><rect x="368.50" y="204.40" width="137.30" height="137.00"/></clipPath>
<path d="M376.00,339.50 C376.33,339.17 377.33,338.03 378.00,337.50 C378.67,336.97 379.33,336.25 380.00,336.30 C380.67,336.35 381.33,337.43 382.00,337.80 C382.67,338.17 382.67,338.05 384.00,338.50 C385.33,338.95 387.33,340.08 390.00,340.50 C392.67,340.92 396.67,341.25 400.00,341.00 C403.33,340.75 407.33,340.25 410.00,339.00 C412.67,337.75 414.45,335.50 416.00,333.50 C417.55,331.50 418.25,329.50 419.30,327.00 C420.35,324.50 421.18,321.90 422.30,318.50 C423.42,315.10 424.88,311.32 426.00,306.60 C427.12,301.88 428.00,295.65 429.00,290.20 C430.00,284.75 430.88,279.85 432.00,273.90 C433.12,267.95 434.58,260.70 435.70,254.50 C436.82,248.30 437.83,241.65 438.70,236.70 C439.57,231.75 439.92,229.02 440.90,224.80 C441.88,220.58 443.48,214.63 444.60,211.40 C445.72,208.17 446.87,206.97 447.60,205.40 C448.33,203.83 448.38,201.00 449.00,202.00 C449.62,203.00 450.53,208.35 451.30,211.40 C452.07,214.45 452.85,216.83 453.60,220.30 C454.35,223.77 454.93,226.50 455.80,232.20 C456.67,237.90 457.80,247.55 458.80,254.50 C459.80,261.45 460.82,267.45 461.80,273.90 C462.78,280.35 463.72,286.75 464.70,293.20 C465.68,299.65 466.70,306.65 467.70,312.60 C468.70,318.55 469.70,324.93 470.70,328.90 C471.70,332.87 472.08,334.53 473.70,336.40 C475.32,338.27 478.30,339.37 480.40,340.10 C482.50,340.83 485.32,340.68 486.30,340.80" fill="none" stroke="#000" stroke-width="2.2" stroke-linejoin="round" stroke-dasharray="7 7" clip-path="url(#c13)"/>
<clipPath id="c14"><rect x="368.50" y="204.40" width="137.30" height="137.00"/></clipPath>
<path d="M368.90,340.70 C369.72,340.55 372.12,340.02 373.80,339.80 C375.48,339.58 377.40,339.53 379.00,339.40 C380.60,339.27 381.93,338.93 383.40,339.00 C384.87,339.07 386.20,339.52 387.80,339.80 C389.40,340.08 390.97,340.50 393.00,340.70 C395.03,340.90 397.52,341.03 400.00,341.00 C402.48,340.97 406.00,340.92 407.90,340.50 C409.80,340.08 410.23,339.48 411.40,338.50 C412.57,337.52 413.58,336.05 414.90,334.60 C416.22,333.15 418.13,331.33 419.30,329.80 C420.47,328.27 420.95,327.15 421.90,325.40 C422.85,323.65 423.93,321.68 425.00,319.30 C426.07,316.92 427.25,314.45 428.30,311.10 C429.35,307.75 430.18,304.17 431.30,299.20 C432.42,294.23 433.77,287.25 435.00,281.30 C436.23,275.35 437.47,268.95 438.70,263.50 C439.93,258.05 441.28,253.07 442.40,248.60 C443.52,244.13 444.53,240.18 445.40,236.70 C446.27,233.22 446.85,230.07 447.60,227.70 C448.35,225.33 449.15,223.37 449.90,222.50 C450.65,221.63 451.23,222.00 452.10,222.50 C452.97,223.00 454.12,223.75 455.10,225.50 C456.08,227.25 457.02,229.90 458.00,233.00 C458.98,236.10 460.00,239.77 461.00,244.10 C462.00,248.43 463.00,253.55 464.00,259.00 C465.00,264.45 466.02,270.60 467.00,276.80 C467.98,283.00 468.92,289.98 469.90,296.20 C470.88,302.42 472.03,309.13 472.90,314.10 C473.77,319.07 474.10,323.03 475.10,326.00 C476.10,328.97 477.53,330.30 478.90,331.90 C480.27,333.50 481.57,334.73 483.30,335.60 C485.03,336.47 487.32,336.35 489.30,337.10 C491.28,337.85 493.42,339.28 495.20,340.10 C496.98,340.92 498.23,341.68 500.00,342.00 C501.77,342.32 504.83,342.00 505.80,342.00" fill="none" stroke="#000" stroke-width="2.2" stroke-linejoin="round" clip-path="url(#c14)"/>
<rect x="538.10" y="204.60" width="144.90" height="136.70" fill="none" stroke="#d4d4d4" stroke-width="1"/>
<text transform="translate(528.40,342.00) scale(1.030,1) rotate(-90)" x="-2.24" y="2.90" font-family='"Liberation Sans", sans-serif' font-size="8.05" font-weight="normal" font-style="normal" fill="#2a2a2a" textLength="4.48" lengthAdjust="spacingAndGlyphs">0</text>
<text transform="translate(528.40,304.20) scale(1.030,1) rotate(-90)" x="-2.24" y="2.90" font-family='"Liberation Sans", sans-serif' font-size="8.05" font-weight="normal" font-style="normal" fill="#2a2a2a" textLength="4.48" lengthAdjust="spacingAndGlyphs">5</text>
<text transform="translate(528.40,266.60) scale(1.030,1) rotate(-90)" x="-4.48" y="2.90" font-family='"Liberation Sans", sans-serif' font-size="8.05" font-weight="normal" font-style="normal" fill="#2a2a2a" textLength="8.96" lengthAdjust="spacingAndGlyphs">10</text>
<text transform="translate(528.40,229.60) scale(1.030,1) rotate(-90)" x="-4.48" y="2.90" font-family='"Liberation Sans", sans-serif' font-size="8.05" font-weight="normal" font-style="normal" fill="#2a2a2a" textLength="8.96" lengthAdjust="spacingAndGlyphs">15</text>
<text x="530.03" y="350.80" font-family='"Liberation Sans", sans-serif' font-size="8.05" font-weight="normal" font-style="normal" fill="#2a2a2a" textLength="16.14" lengthAdjust="spacingAndGlyphs">0.00</text>
<text x="566.73" y="350.80" font-family='"Liberation Sans", sans-serif' font-size="8.05" font-weight="normal" font-style="normal" fill="#2a2a2a" textLength="16.14" lengthAdjust="spacingAndGlyphs">0.05</text>
<text x="606.43" y="350.80" font-family='"Liberation Sans", sans-serif' font-size="8.05" font-weight="normal" font-style="normal" fill="#2a2a2a" textLength="16.14" lengthAdjust="spacingAndGlyphs">0.10</text>
<text x="644.93" y="350.80" font-family='"Liberation Sans", sans-serif' font-size="8.05" font-weight="normal" font-style="normal" fill="#2a2a2a" textLength="16.14" lengthAdjust="spacingAndGlyphs">0.15</text>
<text x="574.70" y="359.86" font-family='"Liberation Sans", sans-serif' font-size="7.38" font-weight="bold" font-style="normal" fill="#111" textLength="71.80" lengthAdjust="spacingAndGlyphs">Absolute Difference</text>
<text x="616.50" y="225.91" font-family='"Liberation Sans", sans-serif' font-size="7.54" font-weight="normal" font-style="normal" fill="#222" textLength="37.10" lengthAdjust="spacingAndGlyphs">D = 0.0957</text>
<text x="616.50" y="233.62" font-family='"Liberation Sans", sans-serif' font-size="7.56" font-weight="normal" font-style="normal" fill="#222" textLength="58.40" lengthAdjust="spacingAndGlyphs">p−value = 0.0184</text>
<clipPath id="c15"><rect x="538.10" y="204.60" width="144.90" height="136.70"/></clipPath>
<path d="M538.30,292.00 C538.45,283.52 538.88,253.05 539.20,241.10 C539.52,229.15 539.78,224.77 540.20,220.30 C540.62,215.83 540.95,215.53 541.70,214.30 C542.45,213.07 543.58,212.77 544.70,212.90 C545.82,213.03 547.17,213.62 548.40,215.10 C549.63,216.58 550.98,219.45 552.10,221.80 C553.22,224.15 554.10,227.22 555.10,229.20 C556.10,231.18 556.98,231.72 558.10,233.70 C559.22,235.68 560.68,238.87 561.80,241.10 C562.92,243.33 563.68,244.98 564.80,247.10 C565.92,249.22 567.27,251.57 568.50,253.80 C569.73,256.03 570.97,258.02 572.20,260.50 C573.43,262.98 574.67,265.98 575.90,268.70 C577.13,271.42 578.48,274.20 579.60,276.80 C580.72,279.40 581.48,281.57 582.60,284.30 C583.72,287.03 585.05,290.23 586.30,293.20 C587.55,296.17 588.85,299.37 590.10,302.10 C591.35,304.83 592.57,307.37 593.80,309.60 C595.03,311.83 596.13,313.65 597.50,315.50 C598.87,317.35 600.27,318.95 602.00,320.70 C603.73,322.45 605.92,324.50 607.90,326.00 C609.88,327.50 612.05,328.53 613.90,329.70 C615.75,330.87 617.15,331.87 619.00,333.00 C620.85,334.13 622.67,335.57 625.00,336.50 C627.33,337.43 630.50,338.10 633.00,338.60 C635.50,339.10 637.17,339.32 640.00,339.50 C642.83,339.68 646.67,339.62 650.00,339.70 C653.33,339.78 656.67,339.90 660.00,340.00 C663.33,340.10 668.33,340.25 670.00,340.30" fill="none" stroke="#000" stroke-width="2.2" stroke-linejoin="round" stroke-dasharray="7 7" clip-path="url(#c15)"/>
<clipPath id="c16"><rect x="538.10" y="204.60" width="144.90" height="136.70"/></clipPath>
<path d="M538.30,278.30 C538.45,274.33 538.88,262.18 539.20,254.50 C539.52,246.82 539.78,238.90 540.20,232.20 C540.62,225.50 541.08,218.77 541.70,214.30 C542.32,209.83 543.15,206.88 543.90,205.40 C544.65,203.92 545.33,204.53 546.20,205.40 C547.07,206.27 547.98,208.62 549.10,210.60 C550.22,212.58 551.65,214.93 552.90,217.30 C554.15,219.67 555.48,222.07 556.60,224.80 C557.72,227.53 558.62,230.48 559.60,233.70 C560.58,236.92 561.52,240.63 562.50,244.10 C563.48,247.57 564.50,251.52 565.50,254.50 C566.50,257.48 567.38,259.52 568.50,262.00 C569.62,264.48 570.97,266.80 572.20,269.40 C573.43,272.00 574.67,274.87 575.90,277.60 C577.13,280.33 578.35,283.20 579.60,285.80 C580.85,288.40 582.03,290.72 583.40,293.20 C584.77,295.68 586.32,298.10 587.80,300.70 C589.28,303.30 590.80,306.08 592.30,308.80 C593.80,311.52 595.32,314.63 596.80,317.00 C598.28,319.37 599.72,321.38 601.20,323.00 C602.68,324.62 604.08,325.72 605.70,326.70 C607.32,327.68 609.17,328.03 610.90,328.90 C612.63,329.77 614.37,330.90 616.10,331.90 C617.83,332.90 619.43,333.95 621.30,334.90 C623.17,335.85 625.32,336.98 627.30,337.60 C629.28,338.22 631.08,338.28 633.20,338.60 C635.32,338.92 637.12,339.35 640.00,339.50 C642.88,339.65 647.17,339.42 650.50,339.50 C653.83,339.58 656.75,339.87 660.00,340.00 C663.25,340.13 666.17,340.18 670.00,340.30 C673.83,340.42 680.83,340.63 683.00,340.70" fill="none" stroke="#000" stroke-width="2.2" stroke-linejoin="round" clip-path="url(#c16)"/>
<rect x="23.60" y="407.90" width="138.20" height="137.10" fill="none" stroke="#d4d4d4" stroke-width="1"/>
<text transform="translate(14.90,544.60) scale(1.030,1) rotate(-90)" x="-2.27" y="2.94" font-family='"Liberation Sans", sans-serif' font-size="8.16" font-weight="normal" font-style="normal" fill="#2a2a2a" textLength="4.54" lengthAdjust="spacingAndGlyphs">0</text>
<text transform="translate(14.90,493.00) scale(1.030,1) rotate(-90)" x="-4.54" y="2.94" font-family='"Liberation Sans", sans-serif' font-size="8.16" font-weight="normal" font-style="normal" fill="#2a2a2a" textLength="9.07" lengthAdjust="spacingAndGlyphs">50</text>
<text transform="translate(14.90,437.20) scale(1.030,1) rotate(-90)" x="-6.80" y="2.94" font-family='"Liberation Sans", sans-serif' font-size="8.16" font-weight="normal" font-style="normal" fill="#2a2a2a" textLength="13.61" lengthAdjust="spacingAndGlyphs">100</text>
<text x="15.43" y="554.84" font-family='"Liberation Sans", sans-serif' font-size="8.16" font-weight="normal" font-style="normal" fill="#2a2a2a" textLength="16.35" lengthAdjust="spacingAndGlyphs">0.00</text>
<text x="54.63" y="554.84" font-family='"Liberation Sans", sans-serif' font-size="8.16" font-weight="normal" font-style="normal" fill="#2a2a2a" textLength="16.35" lengthAdjust="spacingAndGlyphs">0.01</text>
<text x="93.53" y="554.84" font-family='"Liberation Sans", sans-serif' font-size="8.16" font-weight="normal" font-style="normal" fill="#2a2a2a" textLength="16.35" lengthAdjust="spacingAndGlyphs">0.02</text>
<text x="132.53" y="554.84" font-family='"Liberation Sans", sans-serif' font-size="8.16" font-weight="normal" font-style="normal" fill="#2a2a2a" textLength="16.35" lengthAdjust="spacingAndGlyphs">0.03</text>
<text x="77.70" y="563.68" font-family='"Liberation Sans", sans-serif' font-size="7.45" font-weight="bold" font-style="normal" fill="#111" textLength="30.00" lengthAdjust="spacingAndGlyphs">Average</text>
<text transform="translate(5.50,477.00) scale(1.030,1) rotate(-90)" x="-23.75" y="2.65" font-family='"Liberation Sans", sans-serif' font-size="7.37" font-weight="bold" font-style="normal" fill="#111" textLength="47.50" lengthAdjust="spacingAndGlyphs">Prob. Density</text>
<text x="80.30" y="426.51" font-family='"Liberation Sans", sans-serif' font-size="6.97" font-weight="normal" font-style="normal" fill="#222" textLength="34.30" lengthAdjust="spacingAndGlyphs">D = 0.4141</text>
<text x="80.30" y="436.26" font-family='"Liberation Sans", sans-serif' font-size="7.66" font-weight="normal" font-style="normal" fill="#222" textLength="63.70" lengthAdjust="spacingAndGlyphs">p−value &lt; 2.2e−16</text>
<clipPath id="c17"><rect x="23.60" y="407.90" width="138.20" height="137.10"/></clipPath>
<path d="M23.50,463.30 C23.62,460.53 23.97,452.95 24.20,446.70 C24.43,440.45 24.55,432.05 24.90,425.80 C25.25,419.55 25.92,412.20 26.30,409.20 C26.68,406.20 26.87,405.48 27.20,407.80 C27.53,410.12 27.88,417.78 28.30,423.10 C28.72,428.42 29.12,434.15 29.70,439.70 C30.28,445.25 31.10,451.30 31.80,456.40 C32.50,461.50 33.32,466.60 33.90,470.30 C34.48,474.00 34.72,479.30 35.30,478.60 C35.88,477.90 36.72,469.10 37.40,466.10 C38.08,463.10 38.72,459.90 39.40,460.60 C40.08,461.30 40.92,467.30 41.50,470.30 C42.08,473.30 42.20,477.92 42.90,478.60 C43.60,479.28 44.53,476.02 45.70,474.40 C46.87,472.78 48.75,468.20 49.90,468.90 C51.05,469.60 51.80,475.70 52.60,478.60 C53.40,481.50 53.65,484.68 54.70,486.30 C55.75,487.92 57.50,487.03 58.90,488.30 C60.30,489.57 61.95,490.65 63.10,493.90 C64.25,497.15 64.65,504.10 65.80,507.80 C66.95,511.50 68.25,513.43 70.00,516.10 C71.75,518.77 74.45,522.18 76.30,523.80 C78.15,525.42 79.13,524.30 81.10,525.80 C83.07,527.30 86.02,531.05 88.10,532.80 C90.18,534.55 91.62,535.38 93.60,536.30 C95.58,537.22 98.23,537.65 100.00,538.30 C101.77,538.95 102.87,539.67 104.20,540.20 C105.53,540.73 106.70,541.37 108.00,541.50 C109.30,541.63 110.67,541.33 112.00,541.00 C113.33,540.67 114.83,539.85 116.00,539.50 C117.17,539.15 117.67,538.82 119.00,538.90 C120.33,538.98 122.17,539.65 124.00,540.00 C125.83,540.35 127.33,540.75 130.00,541.00 C132.67,541.25 136.67,541.33 140.00,541.50 C143.33,541.67 146.37,541.82 150.00,542.00 C153.63,542.18 159.83,542.50 161.80,542.60" fill="none" stroke="#000" stroke-width="2.4" stroke-linejoin="round" stroke-dasharray="7 7" clip-path="url(#c17)"/>
<clipPath id="c18"><rect x="23.60" y="407.90" width="138.20" height="137.10"/></clipPath>
<path d="M23.50,493.90 C23.73,491.12 24.33,481.60 24.90,477.20 C25.47,472.80 26.10,469.82 26.90,467.50 C27.70,465.18 28.88,463.77 29.70,463.30 C30.52,462.83 30.98,463.30 31.80,464.70 C32.62,466.10 33.55,469.38 34.60,471.70 C35.65,474.02 36.83,476.52 38.10,478.60 C39.37,480.68 40.58,482.58 42.20,484.20 C43.82,485.82 45.95,486.92 47.80,488.30 C49.65,489.68 51.57,490.87 53.30,492.50 C55.03,494.13 56.80,496.25 58.20,498.10 C59.60,499.95 60.55,501.75 61.70,503.60 C62.85,505.45 63.95,507.35 65.10,509.20 C66.25,511.05 67.32,512.85 68.60,514.70 C69.88,516.55 71.18,518.68 72.80,520.30 C74.42,521.92 76.22,523.13 78.30,524.40 C80.38,525.67 82.98,526.73 85.30,527.90 C87.62,529.07 89.75,530.47 92.20,531.40 C94.65,532.33 98.00,533.07 100.00,533.50 C102.00,533.93 102.53,533.67 104.20,534.00 C105.87,534.33 107.93,535.00 110.00,535.50 C112.07,536.00 114.60,536.58 116.60,537.00 C118.60,537.42 119.93,537.67 122.00,538.00 C124.07,538.33 126.67,538.75 129.00,539.00 C131.33,539.25 133.50,539.33 136.00,539.50 C138.50,539.67 141.33,539.70 144.00,540.00 C146.67,540.30 149.03,540.87 152.00,541.30 C154.97,541.73 160.17,542.38 161.80,542.60" fill="none" stroke="#000" stroke-width="2.4" stroke-linejoin="round" clip-path="url(#c18)"/>
<rect x="193.60" y="407.90" width="143.10" height="136.70" fill="none" stroke="#d4d4d4" stroke-width="1"/>
<text transform="translate(185.00,544.60) scale(1.030,1) rotate(-90)" x="-2.27" y="2.94" font-family='"Liberation Sans", sans-serif' font-size="8.16" font-weight="normal" font-style="normal" fill="#2a2a2a" textLength="4.54" lengthAdjust="spacingAndGlyphs">0</text>
<text transform="translate(185.00,490.50) scale(1.030,1) rotate(-90)" x="-4.54" y="2.94" font-family='"Liberation Sans", sans-serif' font-size="8.16" font-weight="normal" font-style="normal" fill="#2a2a2a" textLength="9.07" lengthAdjust="spacingAndGlyphs">50</text>
<text transform="translate(185.00,434.70) scale(1.030,1) rotate(-90)" x="-6.80" y="2.94" font-family='"Liberation Sans", sans-serif' font-size="8.16" font-weight="normal" font-style="normal" fill="#2a2a2a" textLength="13.61" lengthAdjust="spacingAndGlyphs">100</text>
<text x="185.43" y="554.84" font-family='"Liberation Sans", sans-serif' font-size="8.16" font-weight="normal" font-style="normal" fill="#2a2a2a" textLength="16.35" lengthAdjust="spacingAndGlyphs">0.00</text>
<text x="226.33" y="554.84" font-family='"Liberation Sans", sans-serif' font-size="8.16" font-weight="normal" font-style="normal" fill="#2a2a2a" textLength="16.35" lengthAdjust="spacingAndGlyphs">0.01</text>
<text x="267.33" y="554.84" font-family='"Liberation Sans", sans-serif' font-size="8.16" font-weight="normal" font-style="normal" fill="#2a2a2a" textLength="16.35" lengthAdjust="spacingAndGlyphs">0.02</text>
<text x="308.23" y="554.84" font-family='"Liberation Sans", sans-serif' font-size="8.16" font-weight="normal" font-style="normal" fill="#2a2a2a" textLength="16.35" lengthAdjust="spacingAndGlyphs">0.03</text>
<text x="229.80" y="563.73" font-family='"Liberation Sans", sans-serif' font-size="7.30" font-weight="bold" font-style="normal" fill="#111" textLength="71.00" lengthAdjust="spacingAndGlyphs">Absolute Difference</text>
<text x="255.30" y="425.09" font-family='"Liberation Sans", sans-serif' font-size="7.74" font-weight="normal" font-style="normal" fill="#222" textLength="38.10" lengthAdjust="spacingAndGlyphs">D = 0.3379</text>
<text x="255.30" y="434.26" font-family='"Liberation Sans", sans-serif' font-size="7.66" font-weight="normal" font-style="normal" fill="#222" textLength="63.70" lengthAdjust="spacingAndGlyphs">p−value &lt; 2.2e−16</text>
<clipPath id="c19"><rect x="193.60" y="407.90" width="143.10" height="136.70"/></clipPath>
<path d="M193.50,460.60 C193.55,458.28 193.65,452.50 193.80,446.70 C193.95,440.90 194.10,430.90 194.40,425.80 C194.70,420.70 195.22,418.07 195.60,416.10 C195.98,414.13 196.37,413.53 196.70,414.00 C197.03,414.47 197.28,416.47 197.60,418.90 C197.92,421.33 198.25,425.37 198.60,428.60 C198.95,431.83 199.28,434.13 199.70,438.30 C200.12,442.47 200.52,448.73 201.10,453.60 C201.68,458.47 202.50,464.03 203.20,467.50 C203.90,470.97 204.53,471.50 205.30,474.40 C206.07,477.30 206.88,482.12 207.80,484.90 C208.72,487.68 209.48,489.83 210.80,491.10 C212.12,492.37 214.30,492.97 215.70,492.50 C217.10,492.03 217.93,487.72 219.20,488.30 C220.47,488.88 222.15,493.68 223.30,496.00 C224.45,498.32 224.93,499.77 226.10,502.20 C227.27,504.63 228.68,509.32 230.30,510.60 C231.92,511.88 233.95,510.48 235.80,509.90 C237.65,509.32 239.77,507.45 241.40,507.10 C243.03,506.75 244.45,506.77 245.60,507.80 C246.75,508.83 247.15,510.75 248.30,513.30 C249.45,515.85 250.87,521.25 252.50,523.10 C254.13,524.95 255.78,523.83 258.10,524.40 C260.42,524.97 264.42,525.80 266.40,526.50 C268.38,527.20 268.70,527.77 270.00,528.60 C271.30,529.43 272.67,529.87 274.20,531.50 C275.73,533.13 277.40,536.90 279.20,538.40 C281.00,539.90 282.87,540.03 285.00,540.50 C287.13,540.97 289.50,541.08 292.00,541.20 C294.50,541.32 297.00,541.20 300.00,541.20 C303.00,541.20 306.67,541.15 310.00,541.20 C313.33,541.25 317.00,541.37 320.00,541.50 C323.00,541.63 325.22,541.75 328.00,542.00 C330.78,542.25 335.25,542.83 336.70,543.00" fill="none" stroke="#000" stroke-width="2.4" stroke-linejoin="round" stroke-dasharray="7 7" clip-path="url(#c19)"/>
<clipPath id="c20"><rect x="193.60" y="407.90" width="143.10" height="136.70"/></clipPath>
<path d="M193.50,482.80 C193.73,480.48 194.33,472.60 194.90,468.90 C195.47,465.20 196.22,462.33 196.90,460.60 C197.58,458.87 198.30,458.50 199.00,458.50 C199.70,458.50 200.28,459.10 201.10,460.60 C201.92,462.10 202.85,464.73 203.90,467.50 C204.95,470.27 206.25,474.18 207.40,477.20 C208.55,480.22 209.53,482.82 210.80,485.60 C212.07,488.38 213.37,491.37 215.00,493.90 C216.63,496.43 218.75,498.95 220.60,500.80 C222.45,502.65 224.02,503.37 226.10,505.00 C228.18,506.63 230.78,508.98 233.10,510.60 C235.42,512.22 237.70,513.32 240.00,514.70 C242.30,516.08 244.58,517.50 246.90,518.90 C249.22,520.30 251.58,522.07 253.90,523.10 C256.22,524.13 258.12,523.83 260.80,525.10 C263.48,526.37 267.55,529.30 270.00,530.70 C272.45,532.10 273.97,532.55 275.50,533.50 C277.03,534.45 277.78,535.57 279.20,536.40 C280.62,537.23 282.37,537.87 284.00,538.50 C285.63,539.13 287.17,539.78 289.00,540.20 C290.83,540.62 292.92,540.80 295.00,541.00 C297.08,541.20 299.33,541.40 301.50,541.40 C303.67,541.40 305.92,541.20 308.00,541.00 C310.08,540.80 312.00,540.33 314.00,540.20 C316.00,540.07 317.67,540.02 320.00,540.20 C322.33,540.38 325.22,540.90 328.00,541.30 C330.78,541.70 335.25,542.38 336.70,542.60" fill="none" stroke="#000" stroke-width="2.4" stroke-linejoin="round" clip-path="url(#c20)"/>
<rect x="375.50" y="409.40" width="131.20" height="130.80" fill="none" stroke="#d4d4d4" stroke-width="1"/>
<text transform="translate(366.00,521.60) scale(1.030,1) rotate(-90)" x="-10.21" y="3.30" font-family='"Liberation Sans", sans-serif' font-size="9.17" font-weight="normal" font-style="normal" fill="#2a2a2a" textLength="20.41" lengthAdjust="spacingAndGlyphs">1000</text>
<text transform="translate(366.00,476.90) scale(1.030,1) rotate(-90)" x="-10.21" y="3.30" font-family='"Liberation Sans", sans-serif' font-size="9.17" font-weight="normal" font-style="normal" fill="#2a2a2a" textLength="20.41" lengthAdjust="spacingAndGlyphs">3000</text>
<text transform="translate(366.00,432.20) scale(1.030,1) rotate(-90)" x="-10.21" y="3.30" font-family='"Liberation Sans", sans-serif' font-size="9.17" font-weight="normal" font-style="normal" fill="#2a2a2a" textLength="20.41" lengthAdjust="spacingAndGlyphs">5000</text>
<text x="358.97" y="552.40" font-family='"Liberation Sans", sans-serif' font-size="9.17" font-weight="normal" font-style="normal" fill="#2a2a2a" textLength="5.26" lengthAdjust="spacingAndGlyphs">0</text>
<text x="371.36" y="552.40" font-family='"Liberation Sans", sans-serif' font-size="9.17" font-weight="normal" font-style="normal" fill="#2a2a2a" textLength="21.29" lengthAdjust="spacingAndGlyphs">e+00</text>
<text x="434.17" y="552.40" font-family='"Liberation Sans", sans-serif' font-size="9.17" font-weight="normal" font-style="normal" fill="#2a2a2a" textLength="5.26" lengthAdjust="spacingAndGlyphs">4</text>
<text x="446.56" y="552.40" font-family='"Liberation Sans", sans-serif' font-size="9.17" font-weight="normal" font-style="normal" fill="#2a2a2a" textLength="21.29" lengthAdjust="spacingAndGlyphs">e−04</text>
<text x="423.40" y="563.04" font-family='"Liberation Sans", sans-serif' font-size="8.99" font-weight="bold" font-style="normal" fill="#111" textLength="36.20" lengthAdjust="spacingAndGlyphs">Average</text>
<text transform="translate(354.00,475.60) scale(1.030,1) rotate(-90)" x="-28.50" y="3.18" font-family='"Liberation Sans", sans-serif' font-size="8.84" font-weight="bold" font-style="normal" fill="#111" textLength="57.00" lengthAdjust="spacingAndGlyphs">Prob. Density</text>
<text x="376.40" y="417.49" font-family='"Liberation Sans", sans-serif' font-size="8.57" font-weight="normal" font-style="normal" fill="#222" textLength="37.40" lengthAdjust="spacingAndGlyphs">D = 0.127</text>
<text x="376.40" y="428.60" font-family='"Liberation Sans", sans-serif' font-size="9.17" font-weight="normal" font-style="normal" fill="#222" textLength="63.50" lengthAdjust="spacingAndGlyphs">p−value = 5e−4</text>
<clipPath id="c21"><rect x="375.50" y="409.40" width="131.20" height="130.80"/></clipPath>
<path d="M404.80,530.50 C405.17,529.05 406.27,522.52 407.00,521.80 C407.73,521.08 408.47,526.93 409.20,526.20 C409.93,525.47 410.30,519.83 411.40,517.40 C412.50,514.97 414.58,515.98 415.80,511.60 C417.02,507.22 417.90,493.30 418.70,491.10 C419.50,488.90 419.95,498.40 420.60,498.40 C421.25,498.40 421.82,495.23 422.60,491.10 C423.38,486.97 424.50,479.92 425.30,473.60 C426.10,467.28 426.55,459.88 427.40,453.20 C428.25,446.52 429.42,439.10 430.40,433.50 C431.38,427.90 432.38,422.88 433.30,419.60 C434.22,416.32 435.17,414.05 435.90,413.80 C436.63,413.55 437.17,415.18 437.70,418.10 C438.23,421.02 438.38,426.92 439.10,431.30 C439.82,435.68 441.02,441.73 442.00,444.40 C442.98,447.07 443.65,445.10 445.00,447.30 C446.35,449.50 448.28,452.85 450.10,457.60 C451.92,462.35 454.32,469.72 455.90,475.80 C457.48,481.88 458.38,487.65 459.60,494.10 C460.82,500.55 461.87,507.82 463.20,514.50 C464.53,521.18 466.50,529.95 467.60,534.20 C468.70,538.45 469.07,538.87 469.80,540.00 C470.53,541.13 471.63,540.83 472.00,541.00" fill="none" stroke="#000" stroke-width="2.6" stroke-linejoin="round" stroke-dasharray="8 8" clip-path="url(#c21)"/>
<clipPath id="c22"><rect x="375.50" y="409.40" width="131.20" height="130.80"/></clipPath>
<path d="M387.30,540.80 C388.25,540.72 390.82,540.55 393.00,540.30 C395.18,540.05 398.18,539.95 400.40,539.30 C402.62,538.65 404.87,537.12 406.30,536.40 C407.73,535.68 408.03,535.37 409.00,535.00 C409.97,534.63 411.18,534.78 412.10,534.20 C413.02,533.62 413.77,532.60 414.50,531.50 C415.23,530.40 415.43,529.95 416.50,527.60 C417.57,525.25 419.20,520.80 420.90,517.40 C422.60,514.00 425.38,509.93 426.70,507.20 C428.02,504.47 428.18,502.95 428.80,501.00 C429.42,499.05 429.77,498.12 430.40,495.50 C431.03,492.88 431.75,488.22 432.60,485.30 C433.45,482.38 434.53,480.43 435.50,478.00 C436.47,475.57 436.95,474.35 438.40,470.70 C439.85,467.05 442.25,461.45 444.20,456.10 C446.15,450.75 448.52,444.20 450.10,438.60 C451.68,433.00 452.73,426.88 453.70,422.50 C454.67,418.12 455.17,414.37 455.90,412.30 C456.63,410.23 457.37,409.85 458.10,410.10 C458.83,410.35 459.57,409.78 460.30,413.80 C461.03,417.82 461.77,427.15 462.50,434.20 C463.23,441.25 463.97,447.58 464.70,456.10 C465.43,464.62 466.17,475.57 466.90,485.30 C467.63,495.03 468.38,506.47 469.10,514.50 C469.82,522.53 470.35,529.25 471.20,533.50 C472.05,537.75 472.73,538.78 474.20,540.00 C475.67,541.22 478.20,540.67 480.00,540.80 C481.80,540.93 484.17,540.80 485.00,540.80" fill="none" stroke="#000" stroke-width="2.6" stroke-linejoin="round" clip-path="url(#c22)"/>
<rect x="542.40" y="409.00" width="135.60" height="132.10" fill="none" stroke="#d4d4d4" stroke-width="1"/>
<text transform="translate(531.70,504.90) scale(1.030,1) rotate(-90)" x="-10.21" y="3.30" font-family='"Liberation Sans", sans-serif' font-size="9.17" font-weight="normal" font-style="normal" fill="#2a2a2a" textLength="20.41" lengthAdjust="spacingAndGlyphs">2000</text>
<text transform="translate(531.70,470.40) scale(1.030,1) rotate(-90)" x="-10.21" y="3.30" font-family='"Liberation Sans", sans-serif' font-size="9.17" font-weight="normal" font-style="normal" fill="#2a2a2a" textLength="20.41" lengthAdjust="spacingAndGlyphs">4000</text>
<text transform="translate(531.70,434.60) scale(1.030,1) rotate(-90)" x="-10.21" y="3.30" font-family='"Liberation Sans", sans-serif' font-size="9.17" font-weight="normal" font-style="normal" fill="#2a2a2a" textLength="20.41" lengthAdjust="spacingAndGlyphs">6000</text>
<text x="525.97" y="551.90" font-family='"Liberation Sans", sans-serif' font-size="9.17" font-weight="normal" font-style="normal" fill="#2a2a2a" textLength="5.26" lengthAdjust="spacingAndGlyphs">0</text>
<text x="538.26" y="551.90" font-family='"Liberation Sans", sans-serif' font-size="9.17" font-weight="normal" font-style="normal" fill="#2a2a2a" textLength="21.29" lengthAdjust="spacingAndGlyphs">e+00</text>
<text x="582.57" y="551.90" font-family='"Liberation Sans", sans-serif' font-size="9.17" font-weight="normal" font-style="normal" fill="#2a2a2a" textLength="5.26" lengthAdjust="spacingAndGlyphs">2</text>
<text x="593.96" y="551.90" font-family='"Liberation Sans", sans-serif' font-size="9.17" font-weight="normal" font-style="normal" fill="#2a2a2a" textLength="21.29" lengthAdjust="spacingAndGlyphs">e−04</text>
<text x="637.67" y="551.90" font-family='"Liberation Sans", sans-serif' font-size="9.17" font-weight="normal" font-style="normal" fill="#2a2a2a" textLength="5.26" lengthAdjust="spacingAndGlyphs">4</text>
<text x="649.86" y="551.90" font-family='"Liberation Sans", sans-serif' font-size="9.17" font-weight="normal" font-style="normal" fill="#2a2a2a" textLength="21.29" lengthAdjust="spacingAndGlyphs">e−04</text>
<text x="569.60" y="562.48" font-family='"Liberation Sans", sans-serif' font-size="8.84" font-weight="bold" font-style="normal" fill="#111" textLength="86.00" lengthAdjust="spacingAndGlyphs">Absolute Difference</text>
<text x="585.10" y="428.14" font-family='"Liberation Sans", sans-serif' font-size="9.00" font-weight="normal" font-style="normal" fill="#222" textLength="44.30" lengthAdjust="spacingAndGlyphs">D = 0.2363</text>
<text x="585.10" y="437.88" font-family='"Liberation Sans", sans-serif' font-size="9.11" font-weight="normal" font-style="normal" fill="#222" textLength="85.90" lengthAdjust="spacingAndGlyphs">p−value = 7.622e−13</text>
<clipPath id="c23"><rect x="542.40" y="409.00" width="135.60" height="132.10"/></clipPath>
<path d="M542.60,510.00 C542.65,508.57 542.73,506.25 542.90,501.40 C543.07,496.55 543.35,487.23 543.60,480.90 C543.85,474.57 544.15,467.88 544.40,463.40 C544.65,458.92 544.75,455.23 545.10,454.00 C545.45,452.77 545.77,454.92 546.50,456.00 C547.23,457.08 548.42,459.25 549.50,460.50 C550.58,461.75 551.67,462.53 553.00,463.50 C554.33,464.47 556.17,465.72 557.50,466.30 C558.83,466.88 559.90,466.88 561.00,467.00 C562.10,467.12 562.73,466.75 564.10,467.00 C565.47,467.25 567.80,467.33 569.20,468.50 C570.60,469.67 571.28,471.93 572.50,474.00 C573.72,476.07 574.73,478.77 576.50,480.90 C578.27,483.03 581.18,485.53 583.10,486.80 C585.02,488.07 586.30,488.15 588.00,488.50 C589.70,488.85 591.97,488.82 593.30,488.90 C594.63,488.98 594.90,488.27 596.00,489.00 C597.10,489.73 598.40,491.97 599.90,493.30 C601.40,494.63 603.30,495.90 605.00,497.00 C606.70,498.10 608.40,498.68 610.10,499.90 C611.80,501.12 613.72,503.45 615.20,504.30 C616.68,505.15 617.67,504.52 619.00,505.00 C620.33,505.48 621.77,505.62 623.20,507.20 C624.63,508.78 626.27,511.33 627.60,514.50 C628.93,517.67 629.73,523.17 631.20,526.20 C632.67,529.23 634.93,531.07 636.40,532.70 C637.87,534.33 638.90,535.12 640.00,536.00 C641.10,536.88 642.50,537.67 643.00,538.00" fill="none" stroke="#000" stroke-width="2.6" stroke-linejoin="round" stroke-dasharray="8 8" clip-path="url(#c23)"/>
<clipPath id="c24"><rect x="542.40" y="409.00" width="135.60" height="132.10"/></clipPath>
<path d="M542.50,485.00 C542.57,481.40 542.72,470.65 542.90,463.40 C543.08,456.15 543.23,448.32 543.60,441.50 C543.97,434.68 544.48,427.62 545.10,422.50 C545.72,417.38 546.57,412.87 547.30,410.80 C548.03,408.73 548.77,409.12 549.50,410.10 C550.23,411.08 550.85,414.15 551.70,416.70 C552.55,419.25 553.52,422.48 554.60,425.40 C555.68,428.32 556.98,431.27 558.20,434.20 C559.42,437.13 560.80,439.83 561.90,443.00 C563.00,446.17 563.70,449.32 564.80,453.20 C565.90,457.08 567.28,462.42 568.50,466.30 C569.72,470.18 570.77,473.08 572.10,476.50 C573.43,479.92 574.80,483.63 576.50,486.80 C578.20,489.97 580.35,492.95 582.30,495.50 C584.25,498.05 586.48,500.15 588.20,502.10 C589.92,504.05 590.90,505.13 592.60,507.20 C594.30,509.27 596.47,512.32 598.40,514.50 C600.33,516.68 602.25,518.72 604.20,520.30 C606.15,521.88 607.90,522.90 610.10,524.00 C612.30,525.10 614.97,526.05 617.40,526.90 C619.83,527.75 622.52,528.25 624.70,529.10 C626.88,529.95 628.55,531.03 630.50,532.00 C632.45,532.97 634.77,534.10 636.40,534.90 C638.03,535.70 638.87,536.18 640.30,536.80 C641.73,537.42 643.52,538.05 645.00,538.60 C646.48,539.15 646.70,539.77 649.20,540.10 C651.70,540.43 655.20,540.45 660.00,540.60 C664.80,540.75 675.00,540.93 678.00,541.00" fill="none" stroke="#000" stroke-width="2.6" stroke-linejoin="round" clip-path="url(#c24)"/>
<rect x="29.30" y="611.90" width="131.50" height="131.50" fill="none" stroke="#d4d4d4" stroke-width="1"/>
<text transform="translate(17.40,743.40) scale(1.030,1) rotate(-90)" x="-2.52" y="3.27" font-family='"Liberation Sans", sans-serif' font-size="9.07" font-weight="normal" font-style="normal" fill="#2a2a2a" textLength="5.05" lengthAdjust="spacingAndGlyphs">0</text>
<text transform="translate(17.40,706.20) scale(1.030,1) rotate(-90)" x="-7.57" y="3.27" font-family='"Liberation Sans", sans-serif' font-size="9.07" font-weight="normal" font-style="normal" fill="#2a2a2a" textLength="15.14" lengthAdjust="spacingAndGlyphs">100</text>
<text transform="translate(17.40,668.20) scale(1.030,1) rotate(-90)" x="-7.57" y="3.27" font-family='"Liberation Sans", sans-serif' font-size="9.07" font-weight="normal" font-style="normal" fill="#2a2a2a" textLength="15.14" lengthAdjust="spacingAndGlyphs">200</text>
<text transform="translate(17.40,631.00) scale(1.030,1) rotate(-90)" x="-7.57" y="3.27" font-family='"Liberation Sans", sans-serif' font-size="9.07" font-weight="normal" font-style="normal" fill="#2a2a2a" textLength="15.14" lengthAdjust="spacingAndGlyphs">300</text>
<text x="17.31" y="754.47" font-family='"Liberation Sans", sans-serif' font-size="9.07" font-weight="normal" font-style="normal" fill="#2a2a2a" textLength="23.39" lengthAdjust="spacingAndGlyphs">0.000</text>
<text x="64.51" y="754.47" font-family='"Liberation Sans", sans-serif' font-size="9.07" font-weight="normal" font-style="normal" fill="#2a2a2a" textLength="23.39" lengthAdjust="spacingAndGlyphs">0.005</text>
<text x="111.61" y="754.47" font-family='"Liberation Sans", sans-serif' font-size="9.07" font-weight="normal" font-style="normal" fill="#2a2a2a" textLength="23.39" lengthAdjust="spacingAndGlyphs">0.010</text>
<text x="76.95" y="765.56" font-family='"Liberation Sans", sans-serif' font-size="9.06" font-weight="bold" font-style="normal" fill="#111" textLength="36.50" lengthAdjust="spacingAndGlyphs">Average</text>
<text transform="translate(7.40,678.00) scale(1.030,1) rotate(-90)" x="-28.50" y="3.18" font-family='"Liberation Sans", sans-serif' font-size="8.84" font-weight="bold" font-style="normal" fill="#111" textLength="57.00" lengthAdjust="spacingAndGlyphs">Prob. Density</text>
<text x="67.90" y="626.34" font-family='"Liberation Sans", sans-serif' font-size="9.29" font-weight="normal" font-style="normal" fill="#222" textLength="45.70" lengthAdjust="spacingAndGlyphs">D = 0.2598</text>
<text x="67.90" y="636.12" font-family='"Liberation Sans", sans-serif' font-size="9.23" font-weight="normal" font-style="normal" fill="#222" textLength="87.00" lengthAdjust="spacingAndGlyphs">p−value = 1.998e−15</text>
<clipPath id="c25"><rect x="29.30" y="611.90" width="131.50" height="131.50"/></clipPath>
<path d="M29.50,705.00 C29.60,701.97 29.75,693.25 30.10,686.80 C30.45,680.35 31.12,672.63 31.60,666.30 C32.08,659.97 32.40,654.63 33.00,648.80 C33.60,642.97 34.47,636.17 35.20,631.30 C35.93,626.43 36.78,622.40 37.40,619.60 C38.02,616.80 38.28,614.75 38.90,614.50 C39.52,614.25 40.38,616.03 41.10,618.10 C41.82,620.17 42.35,623.25 43.20,626.90 C44.05,630.55 45.22,636.10 46.20,640.00 C47.18,643.90 48.13,646.40 49.10,650.30 C50.07,654.20 51.15,659.27 52.00,663.40 C52.85,667.53 53.35,671.20 54.20,675.10 C55.05,679.00 56.00,682.92 57.10,686.80 C58.20,690.68 59.58,694.77 60.80,698.40 C62.02,702.03 63.07,705.43 64.40,708.60 C65.73,711.77 67.10,714.47 68.80,717.40 C70.50,720.33 72.65,723.77 74.60,726.20 C76.55,728.63 78.30,730.30 80.50,732.00 C82.70,733.70 85.37,735.30 87.80,736.40 C90.23,737.50 92.37,737.97 95.10,738.60 C97.83,739.23 102.05,739.83 104.20,740.20 C106.35,740.57 106.87,740.58 108.00,740.80 C109.13,741.02 110.50,741.38 111.00,741.50" fill="none" stroke="#000" stroke-width="2.6" stroke-linejoin="round" stroke-dasharray="8.5 9" clip-path="url(#c25)"/>
<clipPath id="c26"><rect x="29.30" y="611.90" width="131.50" height="131.50"/></clipPath>
<path d="M29.40,727.60 C29.77,725.17 30.87,717.62 31.60,713.00 C32.33,708.38 33.07,704.03 33.80,699.90 C34.53,695.77 35.15,692.10 36.00,688.20 C36.85,684.30 37.93,679.67 38.90,676.50 C39.87,673.33 40.72,670.90 41.80,669.20 C42.88,667.50 44.18,666.53 45.40,666.30 C46.62,666.07 47.75,666.82 49.10,667.80 C50.45,668.78 52.05,670.50 53.50,672.20 C54.95,673.90 56.35,675.82 57.80,678.00 C59.25,680.18 60.85,682.62 62.20,685.30 C63.55,687.98 64.55,691.67 65.90,694.10 C67.25,696.53 68.85,697.72 70.30,699.90 C71.75,702.08 73.15,704.77 74.60,707.20 C76.05,709.63 77.53,712.43 79.00,714.50 C80.47,716.57 81.93,717.90 83.40,719.60 C84.87,721.30 86.33,722.88 87.80,724.70 C89.27,726.52 90.50,728.67 92.20,730.50 C93.90,732.33 96.07,734.48 98.00,735.70 C99.93,736.92 101.85,737.32 103.80,737.80 C105.75,738.28 107.75,738.23 109.70,738.60 C111.65,738.97 112.95,739.40 115.50,740.00 C118.05,740.60 122.42,741.72 125.00,742.20 C127.58,742.68 128.67,742.82 131.00,742.90 C133.33,742.98 136.67,742.80 139.00,742.70 C141.33,742.60 142.93,742.52 145.00,742.30 C147.07,742.08 149.57,741.52 151.40,741.40 C153.23,741.28 154.43,741.50 156.00,741.60 C157.57,741.70 160.00,741.93 160.80,742.00" fill="none" stroke="#000" stroke-width="2.6" stroke-linejoin="round" clip-path="url(#c26)"/>
<rect x="196.00" y="611.90" width="140.30" height="131.50" fill="none" stroke="#d4d4d4" stroke-width="1"/>
<text transform="translate(185.40,743.40) scale(1.030,1) rotate(-90)" x="-2.52" y="3.27" font-family='"Liberation Sans", sans-serif' font-size="9.07" font-weight="normal" font-style="normal" fill="#2a2a2a" textLength="5.05" lengthAdjust="spacingAndGlyphs">0</text>
<text transform="translate(185.40,703.00) scale(1.030,1) rotate(-90)" x="-7.57" y="3.27" font-family='"Liberation Sans", sans-serif' font-size="9.07" font-weight="normal" font-style="normal" fill="#2a2a2a" textLength="15.14" lengthAdjust="spacingAndGlyphs">100</text>
<text transform="translate(185.40,664.00) scale(1.030,1) rotate(-90)" x="-7.57" y="3.27" font-family='"Liberation Sans", sans-serif' font-size="9.07" font-weight="normal" font-style="normal" fill="#2a2a2a" textLength="15.14" lengthAdjust="spacingAndGlyphs">200</text>
<text transform="translate(185.40,624.80) scale(1.030,1) rotate(-90)" x="-7.57" y="3.27" font-family='"Liberation Sans", sans-serif' font-size="9.07" font-weight="normal" font-style="normal" fill="#2a2a2a" textLength="15.14" lengthAdjust="spacingAndGlyphs">300</text>
<text x="184.31" y="754.47" font-family='"Liberation Sans", sans-serif' font-size="9.07" font-weight="normal" font-style="normal" fill="#2a2a2a" textLength="23.39" lengthAdjust="spacingAndGlyphs">0.000</text>
<text x="240.21" y="754.47" font-family='"Liberation Sans", sans-serif' font-size="9.07" font-weight="normal" font-style="normal" fill="#2a2a2a" textLength="23.39" lengthAdjust="spacingAndGlyphs">0.005</text>
<text x="296.01" y="754.47" font-family='"Liberation Sans", sans-serif' font-size="9.07" font-weight="normal" font-style="normal" fill="#2a2a2a" textLength="23.39" lengthAdjust="spacingAndGlyphs">0.010</text>
<text x="223.80" y="765.64" font-family='"Liberation Sans", sans-serif' font-size="8.74" font-weight="bold" font-style="normal" fill="#111" textLength="85.00" lengthAdjust="spacingAndGlyphs">Absolute Difference</text>
<text x="236.20" y="629.88" font-family='"Liberation Sans", sans-serif' font-size="9.10" font-weight="normal" font-style="normal" fill="#222" textLength="44.80" lengthAdjust="spacingAndGlyphs">D = 0.1855</text>
<text x="236.20" y="640.48" font-family='"Liberation Sans", sans-serif' font-size="9.10" font-weight="normal" font-style="normal" fill="#222" textLength="85.80" lengthAdjust="spacingAndGlyphs">p−value = 4.423e−08</text>
<clipPath id="c27"><rect x="196.00" y="611.90" width="140.30" height="131.50"/></clipPath>
<path d="M196.50,665.00 C196.58,663.27 196.75,658.52 197.00,654.60 C197.25,650.68 197.67,645.38 198.00,641.50 C198.33,637.62 198.50,633.85 199.00,631.30 C199.50,628.75 200.07,627.67 201.00,626.20 C201.93,624.73 203.63,622.13 204.60,622.50 C205.57,622.87 206.15,626.32 206.80,628.40 C207.45,630.48 207.77,632.57 208.50,635.00 C209.23,637.43 210.27,640.82 211.20,643.00 C212.13,645.18 213.13,646.43 214.10,648.10 C215.07,649.77 216.15,651.18 217.00,653.00 C217.85,654.82 218.47,656.78 219.20,659.00 C219.93,661.22 220.55,662.88 221.40,666.30 C222.25,669.72 223.37,675.88 224.30,679.50 C225.23,683.12 226.15,685.33 227.00,688.00 C227.85,690.67 228.27,693.27 229.40,695.50 C230.53,697.73 232.10,699.22 233.80,701.40 C235.50,703.58 237.65,706.42 239.60,708.60 C241.55,710.78 243.55,712.55 245.50,714.50 C247.45,716.45 249.35,718.60 251.30,720.30 C253.25,722.00 255.25,723.48 257.20,724.70 C259.15,725.92 260.82,726.63 263.00,727.60 C265.18,728.57 267.87,729.52 270.30,730.50 C272.73,731.48 275.42,732.77 277.60,733.50 C279.78,734.23 281.33,734.53 283.40,734.90 C285.47,735.27 287.40,735.23 290.00,735.70 C292.60,736.17 296.67,737.15 299.00,737.70 C301.33,738.25 302.33,738.58 304.00,739.00 C305.67,739.42 307.33,739.92 309.00,740.20 C310.67,740.48 312.35,740.57 314.00,740.70 C315.65,740.83 317.27,740.87 318.90,741.00 C320.53,741.13 322.15,741.33 323.80,741.50 C325.45,741.67 326.72,741.78 328.80,742.00 C330.88,742.22 335.05,742.67 336.30,742.80" fill="none" stroke="#000" stroke-width="2.6" stroke-linejoin="round" stroke-dasharray="8.5 9" clip-path="url(#c27)"/>
<clipPath id="c28"><rect x="196.00" y="611.90" width="140.30" height="131.50"/></clipPath>
<path d="M196.20,702.00 C196.27,700.92 196.17,699.50 196.60,695.50 C197.03,691.50 198.07,683.35 198.80,678.00 C199.53,672.65 200.28,667.17 201.00,663.40 C201.72,659.63 202.25,657.35 203.10,655.40 C203.95,653.45 205.12,651.83 206.10,651.70 C207.08,651.57 207.92,653.13 209.00,654.60 C210.08,656.07 211.38,658.30 212.60,660.50 C213.82,662.70 214.95,665.13 216.30,667.80 C217.65,670.47 219.25,673.33 220.70,676.50 C222.15,679.67 223.55,683.63 225.00,686.80 C226.45,689.97 227.93,693.07 229.40,695.50 C230.87,697.93 232.10,699.22 233.80,701.40 C235.50,703.58 237.65,706.42 239.60,708.60 C241.55,710.78 243.55,712.55 245.50,714.50 C247.45,716.45 249.35,718.60 251.30,720.30 C253.25,722.00 255.25,723.48 257.20,724.70 C259.15,725.92 260.82,726.63 263.00,727.60 C265.18,728.57 267.87,729.52 270.30,730.50 C272.73,731.48 275.42,732.77 277.60,733.50 C279.78,734.23 281.33,734.53 283.40,734.90 C285.47,735.27 287.40,735.23 290.00,735.70 C292.60,736.17 296.67,737.15 299.00,737.70 C301.33,738.25 302.33,738.58 304.00,739.00 C305.67,739.42 307.33,739.92 309.00,740.20 C310.67,740.48 312.35,740.57 314.00,740.70 C315.65,740.83 317.27,740.87 318.90,741.00 C320.53,741.13 322.15,741.33 323.80,741.50 C325.45,741.67 326.72,741.78 328.80,742.00 C330.88,742.22 335.05,742.67 336.30,742.80" fill="none" stroke="#000" stroke-width="2.6" stroke-linejoin="round" clip-path="url(#c28)"/>
<rect x="374.70" y="611.90" width="131.10" height="131.50" fill="none" stroke="#d4d4d4" stroke-width="1"/>
<text transform="translate(363.00,743.40) scale(1.030,1) rotate(-90)" x="-2.55" y="3.30" font-family='"Liberation Sans", sans-serif' font-size="9.17" font-weight="normal" font-style="normal" fill="#2a2a2a" textLength="5.10" lengthAdjust="spacingAndGlyphs">0</text>
<text transform="translate(363.00,714.10) scale(1.030,1) rotate(-90)" x="-10.21" y="3.30" font-family='"Liberation Sans", sans-serif' font-size="9.17" font-weight="normal" font-style="normal" fill="#2a2a2a" textLength="20.41" lengthAdjust="spacingAndGlyphs">5000</text>
<text transform="translate(363.00,653.30) scale(1.030,1) rotate(-90)" x="-12.76" y="3.30" font-family='"Liberation Sans", sans-serif' font-size="9.17" font-weight="normal" font-style="normal" fill="#2a2a2a" textLength="25.51" lengthAdjust="spacingAndGlyphs">15000</text>
<text x="357.27" y="754.20" font-family='"Liberation Sans", sans-serif' font-size="9.17" font-weight="normal" font-style="normal" fill="#2a2a2a" textLength="5.26" lengthAdjust="spacingAndGlyphs">0</text>
<text x="370.36" y="754.20" font-family='"Liberation Sans", sans-serif' font-size="9.17" font-weight="normal" font-style="normal" fill="#2a2a2a" textLength="21.29" lengthAdjust="spacingAndGlyphs">e+00</text>
<text x="433.67" y="754.20" font-family='"Liberation Sans", sans-serif' font-size="9.17" font-weight="normal" font-style="normal" fill="#2a2a2a" textLength="5.26" lengthAdjust="spacingAndGlyphs">2</text>
<text x="445.96" y="754.20" font-family='"Liberation Sans", sans-serif' font-size="9.17" font-weight="normal" font-style="normal" fill="#2a2a2a" textLength="21.29" lengthAdjust="spacingAndGlyphs">e−04</text>
<text x="422.50" y="765.72" font-family='"Liberation Sans", sans-serif' font-size="8.94" font-weight="bold" font-style="normal" fill="#111" textLength="36.00" lengthAdjust="spacingAndGlyphs">Average</text>
<text transform="translate(351.00,678.00) scale(1.030,1) rotate(-90)" x="-28.50" y="3.18" font-family='"Liberation Sans", sans-serif' font-size="8.84" font-weight="bold" font-style="normal" fill="#111" textLength="57.00" lengthAdjust="spacingAndGlyphs">Prob. Density</text>
<text x="404.70" y="626.26" font-family='"Liberation Sans", sans-serif' font-size="9.06" font-weight="normal" font-style="normal" fill="#222" textLength="44.60" lengthAdjust="spacingAndGlyphs">D = 0.2539</text>
<text x="404.70" y="636.06" font-family='"Liberation Sans", sans-serif' font-size="9.05" font-weight="normal" font-style="normal" fill="#222" textLength="85.30" lengthAdjust="spacingAndGlyphs">p−value = 9.215e−15</text>
<clipPath id="c29"><rect x="374.70" y="611.90" width="131.10" height="131.50"/></clipPath>
<path d="M374.70,653.30 L377.20,637.20 L379.70,626.10 L382.70,618.60 L385.90,623.60 L392.10,639.70 L399.60,659.60 L405.80,676.90 L413.20,696.80 L422.60,711.90 L428.40,717.70 L436.80,725.50 L444.50,729.40 L453.00,732.50 L464.10,735.20 L476.50,736.50 L488.90,737.70 L505.80,739.00" fill="none" stroke="#000" stroke-width="2.6" stroke-linejoin="round" stroke-dasharray="9 10" clip-path="url(#c29)"/>
<clipPath id="c30"><rect x="374.70" y="611.90" width="131.10" height="131.50"/></clipPath>
<path d="M374.70,716.60 L377.20,704.20 L383.40,684.90 L389.60,688.10 L395.80,704.20 L402.00,714.10 L409.50,720.30 L416.90,725.30 L423.10,730.30 L430.60,734.00 L439.30,738.50 L446.70,740.20 L456.60,740.90 L471.50,741.90 L488.90,742.70 L505.80,742.70" fill="none" stroke="#000" stroke-width="2.6" stroke-linejoin="round" clip-path="url(#c30)"/>
<rect x="541.40" y="612.00" width="139.80" height="131.60" fill="none" stroke="#d4d4d4" stroke-width="1"/>
<text transform="translate(530.00,744.40) scale(1.030,1) rotate(-90)" x="-2.55" y="3.30" font-family='"Liberation Sans", sans-serif' font-size="9.17" font-weight="normal" font-style="normal" fill="#2a2a2a" textLength="5.10" lengthAdjust="spacingAndGlyphs">0</text>
<text transform="translate(530.00,706.00) scale(1.030,1) rotate(-90)" x="-10.21" y="3.30" font-family='"Liberation Sans", sans-serif' font-size="9.17" font-weight="normal" font-style="normal" fill="#2a2a2a" textLength="20.41" lengthAdjust="spacingAndGlyphs">5000</text>
<text transform="translate(530.00,667.00) scale(1.030,1) rotate(-90)" x="-12.76" y="3.30" font-family='"Liberation Sans", sans-serif' font-size="9.17" font-weight="normal" font-style="normal" fill="#2a2a2a" textLength="25.51" lengthAdjust="spacingAndGlyphs">10000</text>
<text transform="translate(530.00,628.10) scale(1.030,1) rotate(-90)" x="-12.76" y="3.30" font-family='"Liberation Sans", sans-serif' font-size="9.17" font-weight="normal" font-style="normal" fill="#2a2a2a" textLength="25.51" lengthAdjust="spacingAndGlyphs">15000</text>
<text x="524.77" y="755.30" font-family='"Liberation Sans", sans-serif' font-size="9.17" font-weight="normal" font-style="normal" fill="#2a2a2a" textLength="5.26" lengthAdjust="spacingAndGlyphs">0</text>
<text x="537.66" y="755.30" font-family='"Liberation Sans", sans-serif' font-size="9.17" font-weight="normal" font-style="normal" fill="#2a2a2a" textLength="21.29" lengthAdjust="spacingAndGlyphs">e+00</text>
<text x="604.97" y="755.30" font-family='"Liberation Sans", sans-serif' font-size="9.17" font-weight="normal" font-style="normal" fill="#2a2a2a" textLength="5.26" lengthAdjust="spacingAndGlyphs">2</text>
<text x="616.36" y="755.30" font-family='"Liberation Sans", sans-serif' font-size="9.17" font-weight="normal" font-style="normal" fill="#2a2a2a" textLength="21.29" lengthAdjust="spacingAndGlyphs">e−04</text>
<text x="569.20" y="765.34" font-family='"Liberation Sans", sans-serif' font-size="8.74" font-weight="bold" font-style="normal" fill="#111" textLength="85.00" lengthAdjust="spacingAndGlyphs">Absolute Difference</text>
<text x="587.70" y="634.03" font-family='"Liberation Sans", sans-serif' font-size="9.25" font-weight="normal" font-style="normal" fill="#222" textLength="45.50" lengthAdjust="spacingAndGlyphs">D = 0.3125</text>
<text x="587.70" y="644.20" font-family='"Liberation Sans", sans-serif' font-size="9.17" font-weight="normal" font-style="normal" fill="#222" textLength="76.20" lengthAdjust="spacingAndGlyphs">p−value &lt; 2.2e−16</text>
<clipPath id="c31"><rect x="541.40" y="612.00" width="139.80" height="131.60"/></clipPath>
<path d="M541.40,651.10 L545.80,638.30 L550.90,625.50 L556.00,621.00 L561.10,630.70 L566.20,643.40 L572.60,657.50 L579.00,669.00 L585.40,681.80 L591.80,694.50 L598.10,702.20 L604.50,708.60 L612.20,715.00 L622.40,722.60 L632.60,727.70 L642.90,730.30 L653.00,732.90 L663.30,735.40 L681.20,738.00" fill="none" stroke="#000" stroke-width="2.6" stroke-linejoin="round" stroke-dasharray="9 10" clip-path="url(#c31)"/>
<clipPath id="c32"><rect x="541.40" y="612.00" width="139.80" height="131.60"/></clipPath>
<path d="M541.40,697.10 L547.00,684.30 L553.40,671.50 L559.80,684.30 L566.20,698.40 L573.90,707.30 L580.30,716.20 L589.20,723.90 L599.40,729.00 L612.20,733.40 L625.00,736.70 L637.70,739.20 L650.50,740.50 L663.30,741.80 L681.20,742.60" fill="none" stroke="#000" stroke-width="2.6" stroke-linejoin="round" clip-path="url(#c32)"/>
<rect x="41.70" y="824.90" width="131.40" height="131.00" fill="none" stroke="#d4d4d4" stroke-width="1"/>
<text x="38.09" y="967.53" font-family='"Liberation Sans", sans-serif' font-size="8.97" font-weight="normal" font-style="normal" fill="#2a2a2a" textLength="20.81" lengthAdjust="spacingAndGlyphs">e+00</text>
<text x="69.03" y="967.53" font-family='"Liberation Sans", sans-serif' font-size="8.97" font-weight="normal" font-style="normal" fill="#2a2a2a" textLength="5.14" lengthAdjust="spacingAndGlyphs">5</text>
<text x="81.59" y="967.53" font-family='"Liberation Sans", sans-serif' font-size="8.97" font-weight="normal" font-style="normal" fill="#2a2a2a" textLength="20.81" lengthAdjust="spacingAndGlyphs">e+04</text>
<text x="113.73" y="967.53" font-family='"Liberation Sans", sans-serif' font-size="8.97" font-weight="normal" font-style="normal" fill="#2a2a2a" textLength="5.14" lengthAdjust="spacingAndGlyphs">1</text>
<text x="126.49" y="967.53" font-family='"Liberation Sans", sans-serif' font-size="8.97" font-weight="normal" font-style="normal" fill="#2a2a2a" textLength="20.81" lengthAdjust="spacingAndGlyphs">e+05</text>
<text x="89.70" y="977.44" font-family='"Liberation Sans", sans-serif' font-size="8.99" font-weight="bold" font-style="normal" fill="#111" textLength="36.20" lengthAdjust="spacingAndGlyphs">Average</text>
<text transform="translate(19.90,890.60) scale(1.030,1) rotate(-90)" x="-28.50" y="3.18" font-family='"Liberation Sans", sans-serif' font-size="8.84" font-weight="bold" font-style="normal" fill="#111" textLength="57.00" lengthAdjust="spacingAndGlyphs">Prob. Density</text>
<text x="87.00" y="854.16" font-family='"Liberation Sans", sans-serif' font-size="9.06" font-weight="normal" font-style="normal" fill="#222" textLength="44.60" lengthAdjust="spacingAndGlyphs">D = 0.1992</text>
<text x="87.00" y="864.86" font-family='"Liberation Sans", sans-serif' font-size="9.06" font-weight="normal" font-style="normal" fill="#222" textLength="85.40" lengthAdjust="spacingAndGlyphs">p−value = 2.992e−09</text>
<clipPath id="c33"><rect x="41.70" y="824.90" width="131.40" height="131.00"/></clipPath>
<path d="M41.70,853.40 L44.70,837.30 L48.40,822.00 L50.50,815.00 L53.30,834.80 L58.30,852.10 L63.30,868.30 L68.20,884.40 L74.40,898.00 L81.90,913.00 L89.30,924.10 L98.00,932.80 L109.20,939.00 L121.60,942.70 L134.00,946.40 L148.90,949.00 L160.00,950.50 L173.00,951.50" fill="none" stroke="#000" stroke-width="2.6" stroke-linejoin="round" stroke-dasharray="9 9" clip-path="url(#c33)"/>
<clipPath id="c34"><rect x="41.70" y="824.90" width="131.40" height="131.00"/></clipPath>
<path d="M41.70,934.00 L45.90,926.60 L50.90,924.10 L55.80,922.10 L64.50,926.60 L74.40,934.00 L84.40,941.00 L94.30,946.00 L106.70,948.40 L119.00,949.40 L134.00,950.20 L148.90,951.40 L173.00,953.40" fill="none" stroke="#000" stroke-width="2.6" stroke-linejoin="round" clip-path="url(#c34)"/>
<text transform="translate(30.30,970.00) scale(1.000,1) rotate(-90)" x="-2.47" y="3.20" font-family='"Liberation Sans", sans-serif' font-size="8.90" font-weight="normal" font-style="normal" fill="#2a2a2a" textLength="4.95" lengthAdjust="spacingAndGlyphs">0</text>
<text transform="translate(30.30,964.30) scale(1.000,1) rotate(-90)" x="-2.47" y="3.20" font-family='"Liberation Sans", sans-serif' font-size="8.90" font-weight="normal" font-style="normal" fill="#2a2a2a" textLength="4.95" lengthAdjust="spacingAndGlyphs">0</text>
<text transform="translate(30.30,950.80) scale(1.000,1) rotate(-90)" x="-10.02" y="3.20" font-family='"Liberation Sans", sans-serif' font-size="8.90" font-weight="normal" font-style="normal" fill="#2a2a2a" textLength="20.05" lengthAdjust="spacingAndGlyphs">e+00</text>
<text transform="translate(30.30,918.00) scale(1.000,1) rotate(-90)" x="-2.47" y="3.20" font-family='"Liberation Sans", sans-serif' font-size="8.90" font-weight="normal" font-style="normal" fill="#2a2a2a" textLength="4.95" lengthAdjust="spacingAndGlyphs">2</text>
<text transform="translate(30.30,898.00) scale(1.000,1) rotate(-90)" x="-10.02" y="3.20" font-family='"Liberation Sans", sans-serif' font-size="8.90" font-weight="normal" font-style="normal" fill="#2a2a2a" textLength="20.05" lengthAdjust="spacingAndGlyphs">e−05</text>
<text transform="translate(30.30,867.00) scale(1.000,1) rotate(-90)" x="-2.47" y="3.20" font-family='"Liberation Sans", sans-serif' font-size="8.90" font-weight="normal" font-style="normal" fill="#2a2a2a" textLength="4.95" lengthAdjust="spacingAndGlyphs">4</text>
<text transform="translate(30.30,847.20) scale(1.000,1) rotate(-90)" x="-10.02" y="3.20" font-family='"Liberation Sans", sans-serif' font-size="8.90" font-weight="normal" font-style="normal" fill="#2a2a2a" textLength="20.05" lengthAdjust="spacingAndGlyphs">e−05</text>
<rect x="209.10" y="824.70" width="139.10" height="131.50" fill="none" stroke="#d4d4d4" stroke-width="1"/>
<text x="204.79" y="967.53" font-family='"Liberation Sans", sans-serif' font-size="8.97" font-weight="normal" font-style="normal" fill="#2a2a2a" textLength="20.81" lengthAdjust="spacingAndGlyphs">e+00</text>
<text x="238.83" y="967.53" font-family='"Liberation Sans", sans-serif' font-size="8.97" font-weight="normal" font-style="normal" fill="#2a2a2a" textLength="5.14" lengthAdjust="spacingAndGlyphs">5</text>
<text x="252.09" y="967.53" font-family='"Liberation Sans", sans-serif' font-size="8.97" font-weight="normal" font-style="normal" fill="#2a2a2a" textLength="20.81" lengthAdjust="spacingAndGlyphs">e+04</text>
<text x="286.13" y="967.53" font-family='"Liberation Sans", sans-serif' font-size="8.97" font-weight="normal" font-style="normal" fill="#2a2a2a" textLength="5.14" lengthAdjust="spacingAndGlyphs">1</text>
<text x="297.99" y="967.53" font-family='"Liberation Sans", sans-serif' font-size="8.97" font-weight="normal" font-style="normal" fill="#2a2a2a" textLength="20.81" lengthAdjust="spacingAndGlyphs">e+05</text>
<text x="235.70" y="977.64" font-family='"Liberation Sans", sans-serif' font-size="8.74" font-weight="bold" font-style="normal" fill="#111" textLength="85.00" lengthAdjust="spacingAndGlyphs">Absolute Difference</text>
<text x="261.70" y="850.87" font-family='"Liberation Sans", sans-serif' font-size="9.08" font-weight="normal" font-style="normal" fill="#222" textLength="44.70" lengthAdjust="spacingAndGlyphs">D = 0.1973</text>
<text x="261.70" y="861.30" font-family='"Liberation Sans", sans-serif' font-size="9.17" font-weight="normal" font-style="normal" fill="#222" textLength="86.40" lengthAdjust="spacingAndGlyphs">p−value = 4.449e−09</text>
<clipPath id="c35"><rect x="209.10" y="824.70" width="139.10" height="131.50"/></clipPath>
<path d="M209.10,848.40 L211.20,839.20 L215.20,830.00 L217.80,823.40 L220.00,818.00 L223.00,833.90 L228.30,848.40 L233.60,862.80 L238.80,873.30 L244.00,883.80 L252.00,897.00 L259.80,908.80 L267.70,918.00 L275.60,926.40 L286.10,933.70 L296.60,939.00 L307.10,942.20 L317.60,944.30 L330.00,945.50 L348.00,946.90" fill="none" stroke="#000" stroke-width="2.6" stroke-linejoin="round" stroke-dasharray="9 9" clip-path="url(#c35)"/>
<clipPath id="c36"><rect x="209.10" y="824.70" width="139.10" height="131.50"/></clipPath>
<path d="M209.10,927.20 L220.40,923.20 L230.40,919.80 L238.80,924.50 L249.30,931.10 L259.80,936.40 L269.00,941.60 L278.20,944.30 L288.70,947.70 L301.90,949.50 L317.60,950.80 L348.00,952.10" fill="none" stroke="#000" stroke-width="2.6" stroke-linejoin="round" clip-path="url(#c36)"/>
<text transform="translate(197.60,970.00) scale(1.000,1) rotate(-90)" x="-2.47" y="3.20" font-family='"Liberation Sans", sans-serif' font-size="8.90" font-weight="normal" font-style="normal" fill="#2a2a2a" textLength="4.95" lengthAdjust="spacingAndGlyphs">0</text>
<text transform="translate(197.60,964.20) scale(1.000,1) rotate(-90)" x="-2.47" y="3.20" font-family='"Liberation Sans", sans-serif' font-size="8.90" font-weight="normal" font-style="normal" fill="#2a2a2a" textLength="4.95" lengthAdjust="spacingAndGlyphs">0</text>
<text transform="translate(197.60,950.80) scale(1.000,1) rotate(-90)" x="-10.02" y="3.20" font-family='"Liberation Sans", sans-serif' font-size="8.90" font-weight="normal" font-style="normal" fill="#2a2a2a" textLength="20.05" lengthAdjust="spacingAndGlyphs">e+00</text>
<text transform="translate(197.60,895.00) scale(1.000,1) rotate(-90)" x="-2.47" y="3.20" font-family='"Liberation Sans", sans-serif' font-size="8.90" font-weight="normal" font-style="normal" fill="#2a2a2a" textLength="4.95" lengthAdjust="spacingAndGlyphs">2</text>
<text transform="translate(197.60,875.20) scale(1.000,1) rotate(-90)" x="-10.02" y="3.20" font-family='"Liberation Sans", sans-serif' font-size="8.90" font-weight="normal" font-style="normal" fill="#2a2a2a" textLength="20.05" lengthAdjust="spacingAndGlyphs">e−05</text>
<line x1="397.90" y1="812.60" x2="397.90" y2="945.10" stroke="#cfcfcf" stroke-width="1"/>
<text transform="translate(384.00,945.10) scale(1.150,1) rotate(-90)" x="-2.39" y="3.10" font-family='"Liberation Sans", sans-serif' font-size="8.60" font-weight="normal" font-style="normal" fill="#2a2a2a" textLength="4.78" lengthAdjust="spacingAndGlyphs">0</text>
<text transform="translate(384.00,912.40) scale(1.150,1) rotate(-90)" x="-2.39" y="3.10" font-family='"Liberation Sans", sans-serif' font-size="8.60" font-weight="normal" font-style="normal" fill="#2a2a2a" textLength="4.78" lengthAdjust="spacingAndGlyphs">1</text>
<text transform="translate(384.00,878.90) scale(1.150,1) rotate(-90)" x="-2.39" y="3.10" font-family='"Liberation Sans", sans-serif' font-size="8.60" font-weight="normal" font-style="normal" fill="#2a2a2a" textLength="4.78" lengthAdjust="spacingAndGlyphs">2</text>
<text transform="translate(384.00,845.40) scale(1.150,1) rotate(-90)" x="-2.39" y="3.10" font-family='"Liberation Sans", sans-serif' font-size="8.60" font-weight="normal" font-style="normal" fill="#2a2a2a" textLength="4.78" lengthAdjust="spacingAndGlyphs">3</text>
<text transform="translate(384.00,812.60) scale(1.150,1) rotate(-90)" x="-2.39" y="3.10" font-family='"Liberation Sans", sans-serif' font-size="8.60" font-weight="normal" font-style="normal" fill="#2a2a2a" textLength="4.78" lengthAdjust="spacingAndGlyphs">4</text>
<text x="391.24" y="960.52" font-family='"Liberation Sans", sans-serif' font-size="8.40" font-weight="normal" font-style="normal" fill="#2a2a2a" textLength="12.93" lengthAdjust="spacingAndGlyphs">0.0</text>
<text x="443.04" y="960.52" font-family='"Liberation Sans", sans-serif' font-size="8.40" font-weight="normal" font-style="normal" fill="#2a2a2a" textLength="12.93" lengthAdjust="spacingAndGlyphs">0.5</text>
<text x="494.54" y="960.52" font-family='"Liberation Sans", sans-serif' font-size="8.40" font-weight="normal" font-style="normal" fill="#2a2a2a" textLength="12.93" lengthAdjust="spacingAndGlyphs">1.0</text>
<text x="409.70" y="975.73" font-family='"Liberation Sans", sans-serif' font-size="9.25" font-weight="bold" font-style="italic" fill="#111" textLength="86.40" lengthAdjust="spacingAndGlyphs">1/Shortest Distance</text>
<text transform="translate(368.10,877.00) scale(1.050,1) rotate(-90)" x="-29.40" y="3.28" font-family='"Liberation Sans", sans-serif' font-size="9.12" font-weight="bold" font-style="italic" fill="#111" textLength="58.80" lengthAdjust="spacingAndGlyphs">Prob. Density</text>
<path d="M398.20,945.00 L398.20,938.40 L408.48,938.40 L408.48,945.00 M408.48,945.00 L408.48,845.80 L418.76,845.80 L418.76,945.00 M418.76,945.00 L418.76,811.90 L429.04,811.90 L429.04,945.00 M429.04,945.00 L429.04,868.20 L439.32,868.20 L439.32,945.00 M439.32,945.00 L439.32,932.00 L449.60,932.00 L449.60,945.00 " fill="none" stroke="#000" stroke-width="1.8" stroke-dasharray="4.5 3.7"/>
<path d="M398.20,945.00 L398.20,941.40 L408.48,941.40 L408.48,945.00 M408.48,945.00 L408.48,894.20 L418.76,894.20 L418.76,945.00 M418.76,945.00 L418.76,857.30 L429.04,857.30 L429.04,945.00 M429.04,945.00 L429.04,852.10 L439.32,852.10 L439.32,945.00 M439.32,945.00 L439.32,883.60 L449.60,883.60 L449.60,945.00 M490.72,945.00 L490.72,913.00 L501.00,913.00 L501.00,945.00 " fill="none" stroke="#000" stroke-width="1.9"/>
<line x1="398.20" y1="945.00" x2="501.00" y2="945.00" stroke="#000" stroke-width="1.9"/>
<line x1="558.00" y1="812.00" x2="558.00" y2="945.50" stroke="#cfcfcf" stroke-width="1"/>
<text transform="translate(542.40,945.30) scale(1.100,1) rotate(-90)" x="-5.98" y="3.10" font-family='"Liberation Sans", sans-serif' font-size="8.60" font-weight="normal" font-style="normal" fill="#2a2a2a" textLength="11.96" lengthAdjust="spacingAndGlyphs">0.0</text>
<text transform="translate(542.40,919.26) scale(1.100,1) rotate(-90)" x="-5.98" y="3.10" font-family='"Liberation Sans", sans-serif' font-size="8.60" font-weight="normal" font-style="normal" fill="#2a2a2a" textLength="11.96" lengthAdjust="spacingAndGlyphs">0.2</text>
<text transform="translate(542.40,893.22) scale(1.100,1) rotate(-90)" x="-5.98" y="3.10" font-family='"Liberation Sans", sans-serif' font-size="8.60" font-weight="normal" font-style="normal" fill="#2a2a2a" textLength="11.96" lengthAdjust="spacingAndGlyphs">0.4</text>
<text transform="translate(542.40,867.18) scale(1.100,1) rotate(-90)" x="-5.98" y="3.10" font-family='"Liberation Sans", sans-serif' font-size="8.60" font-weight="normal" font-style="normal" fill="#2a2a2a" textLength="11.96" lengthAdjust="spacingAndGlyphs">0.6</text>
<text transform="translate(542.40,841.14) scale(1.100,1) rotate(-90)" x="-5.98" y="3.10" font-family='"Liberation Sans", sans-serif' font-size="8.60" font-weight="normal" font-style="normal" fill="#2a2a2a" textLength="11.96" lengthAdjust="spacingAndGlyphs">0.8</text>
<text transform="translate(542.40,815.10) scale(1.100,1) rotate(-90)" x="-5.98" y="3.10" font-family='"Liberation Sans", sans-serif' font-size="8.60" font-weight="normal" font-style="normal" fill="#2a2a2a" textLength="11.96" lengthAdjust="spacingAndGlyphs">1.0</text>
<text x="554.81" y="960.42" font-family='"Liberation Sans", sans-serif' font-size="8.40" font-weight="normal" font-style="normal" fill="#2a2a2a" textLength="5.17" lengthAdjust="spacingAndGlyphs">0</text>
<text x="594.61" y="960.42" font-family='"Liberation Sans", sans-serif' font-size="8.40" font-weight="normal" font-style="normal" fill="#2a2a2a" textLength="5.17" lengthAdjust="spacingAndGlyphs">2</text>
<text x="633.91" y="960.42" font-family='"Liberation Sans", sans-serif' font-size="8.40" font-weight="normal" font-style="normal" fill="#2a2a2a" textLength="5.17" lengthAdjust="spacingAndGlyphs">4</text>
<text x="564.60" y="975.45" font-family='"Liberation Sans", sans-serif' font-size="9.29" font-weight="bold" font-style="italic" fill="#111" textLength="96.00" lengthAdjust="spacingAndGlyphs">Mutual Neighborhood</text>
<text transform="translate(528.10,877.00) scale(1.050,1) rotate(-90)" x="-29.40" y="3.28" font-family='"Liberation Sans", sans-serif' font-size="9.12" font-weight="bold" font-style="italic" fill="#111" textLength="58.80" lengthAdjust="spacingAndGlyphs">Prob. Density</text>
<path d="M558.00,817.10 L577.60,817.10 L577.60,945.50 " fill="none" stroke="#000" stroke-width="1.8" stroke-dasharray="4.5 3.7"/>
<line x1="558.00" y1="817.10" x2="558.00" y2="830.00" stroke="#888" stroke-width="1.6"/>
<path d="M558.00,835.30 L577.60,835.30 L577.60,945.50 M577.60,945.50 L577.60,939.00 L597.20,939.00 L597.20,945.50 M597.20,945.50 L597.20,942.10 L616.80,942.10 L616.80,945.50 M616.80,945.50 L616.80,943.50 L636.40,943.50 L636.40,945.50 M636.40,945.50 L636.40,944.50 L656.00,944.50 L656.00,945.50 M656.00,945.50 L656.00,945.00 L665.70,945.00 L665.70,945.50 " fill="none" stroke="#000" stroke-width="1.9"/>
<line x1="558.00" y1="835.30" x2="558.00" y2="945.50" stroke="#8a8a8a" stroke-width="1.8"/>
<line x1="558.00" y1="945.50" x2="665.70" y2="945.50" stroke="#000" stroke-width="1.9"/>
<text x="136.40" y="179.96" font-family='"Liberation Serif", serif' font-size="13.20" font-weight="normal" font-style="normal" fill="#333" textLength="15.60" lengthAdjust="spacingAndGlyphs">(a)</text>
<text x="157.60" y="179.96" font-family='"Liberation Serif", serif' font-size="13.20" font-weight="normal" font-style="normal" fill="#333" textLength="39.00" lengthAdjust="spacingAndGlyphs">Degree</text>
<text x="441.10" y="179.66" font-family='"Liberation Serif", serif' font-size="13.20" font-weight="normal" font-style="normal" fill="#333" textLength="16.50" lengthAdjust="spacingAndGlyphs">(b)</text>
<text x="463.10" y="179.66" font-family='"Liberation Serif", serif' font-size="13.20" font-weight="normal" font-style="normal" fill="#333" textLength="58.70" lengthAdjust="spacingAndGlyphs">Clustering</text>
<text x="526.20" y="179.66" font-family='"Liberation Serif", serif' font-size="13.20" font-weight="normal" font-style="normal" fill="#333" textLength="58.70" lengthAdjust="spacingAndGlyphs">Coefficient</text>
<text x="89.70" y="383.86" font-family='"Liberation Serif", serif' font-size="13.20" font-weight="normal" font-style="normal" fill="#333" textLength="15.60" lengthAdjust="spacingAndGlyphs">(c)</text>
<text x="110.30" y="383.86" font-family='"Liberation Serif", serif' font-size="13.20" font-weight="normal" font-style="normal" fill="#333" textLength="70.90" lengthAdjust="spacingAndGlyphs">Betweenness</text>
<text x="185.50" y="383.86" font-family='"Liberation Serif", serif' font-size="13.20" font-weight="normal" font-style="normal" fill="#333" textLength="56.40" lengthAdjust="spacingAndGlyphs">Centrality</text>
<text x="443.80" y="383.96" font-family='"Liberation Serif", serif' font-size="13.20" font-weight="normal" font-style="normal" fill="#333" textLength="16.50" lengthAdjust="spacingAndGlyphs">(d)</text>
<text x="465.80" y="383.96" font-family='"Liberation Serif", serif' font-size="13.20" font-weight="normal" font-style="normal" fill="#333" textLength="54.00" lengthAdjust="spacingAndGlyphs">Closeness</text>
<text x="523.70" y="383.96" font-family='"Liberation Serif", serif' font-size="13.20" font-weight="normal" font-style="normal" fill="#333" textLength="56.90" lengthAdjust="spacingAndGlyphs">Centrality</text>
<text x="92.70" y="586.76" font-family='"Liberation Serif", serif' font-size="13.20" font-weight="normal" font-style="normal" fill="#333" textLength="15.60" lengthAdjust="spacingAndGlyphs">(e)</text>
<text x="113.80" y="586.76" font-family='"Liberation Serif", serif' font-size="13.20" font-weight="normal" font-style="normal" fill="#333" textLength="66.20" lengthAdjust="spacingAndGlyphs">Eigenvector</text>
<text x="183.90" y="586.76" font-family='"Liberation Serif", serif' font-size="13.20" font-weight="normal" font-style="normal" fill="#333" textLength="57.50" lengthAdjust="spacingAndGlyphs">Centrality</text>
<text x="439.70" y="586.76" font-family='"Liberation Serif", serif' font-size="13.20" font-weight="normal" font-style="normal" fill="#333" textLength="14.40" lengthAdjust="spacingAndGlyphs">(f)</text>
<text x="459.10" y="586.76" font-family='"Liberation Serif", serif' font-size="13.20" font-weight="normal" font-style="normal" fill="#333" textLength="66.30" lengthAdjust="spacingAndGlyphs">Information</text>
<text x="530.40" y="586.76" font-family='"Liberation Serif", serif' font-size="13.20" font-weight="normal" font-style="normal" fill="#333" textLength="57.30" lengthAdjust="spacingAndGlyphs">Centrality</text>
<text x="74.90" y="789.56" font-family='"Liberation Serif", serif' font-size="13.20" font-weight="normal" font-style="normal" fill="#333" textLength="15.90" lengthAdjust="spacingAndGlyphs">(g)</text>
<text x="96.50" y="789.56" font-family='"Liberation Serif", serif' font-size="13.20" font-weight="normal" font-style="normal" fill="#333" textLength="26.50" lengthAdjust="spacingAndGlyphs">Flow</text>
<text x="127.40" y="789.56" font-family='"Liberation Serif", serif' font-size="13.20" font-weight="normal" font-style="normal" fill="#333" textLength="70.90" lengthAdjust="spacingAndGlyphs">Betweenness</text>
<text x="202.40" y="789.56" font-family='"Liberation Serif", serif' font-size="13.20" font-weight="normal" font-style="normal" fill="#333" textLength="57.80" lengthAdjust="spacingAndGlyphs">Centrality</text>
<text x="446.10" y="789.56" font-family='"Liberation Serif", serif' font-size="13.20" font-weight="normal" font-style="normal" fill="#333" textLength="17.20" lengthAdjust="spacingAndGlyphs">(h)</text>
<text x="468.80" y="789.56" font-family='"Liberation Serif", serif' font-size="13.20" font-weight="normal" font-style="normal" fill="#333" textLength="48.70" lengthAdjust="spacingAndGlyphs">Bridging</text>
<text x="521.40" y="789.56" font-family='"Liberation Serif", serif' font-size="13.20" font-weight="normal" font-style="normal" fill="#333" textLength="57.30" lengthAdjust="spacingAndGlyphs">Centrality</text>
<text x="123.10" y="1002.16" font-family='"Liberation Serif", serif' font-size="13.20" font-weight="normal" font-style="normal" fill="#333" textLength="13.60" lengthAdjust="spacingAndGlyphs">(i)</text>
<text x="141.60" y="1002.16" font-family='"Liberation Serif", serif' font-size="13.20" font-weight="normal" font-style="normal" fill="#333" textLength="34.10" lengthAdjust="spacingAndGlyphs">Stress</text>
<text x="179.10" y="1002.16" font-family='"Liberation Serif", serif' font-size="13.20" font-weight="normal" font-style="normal" fill="#333" textLength="57.40" lengthAdjust="spacingAndGlyphs">Centrality</text>
</svg>
</body></html>
